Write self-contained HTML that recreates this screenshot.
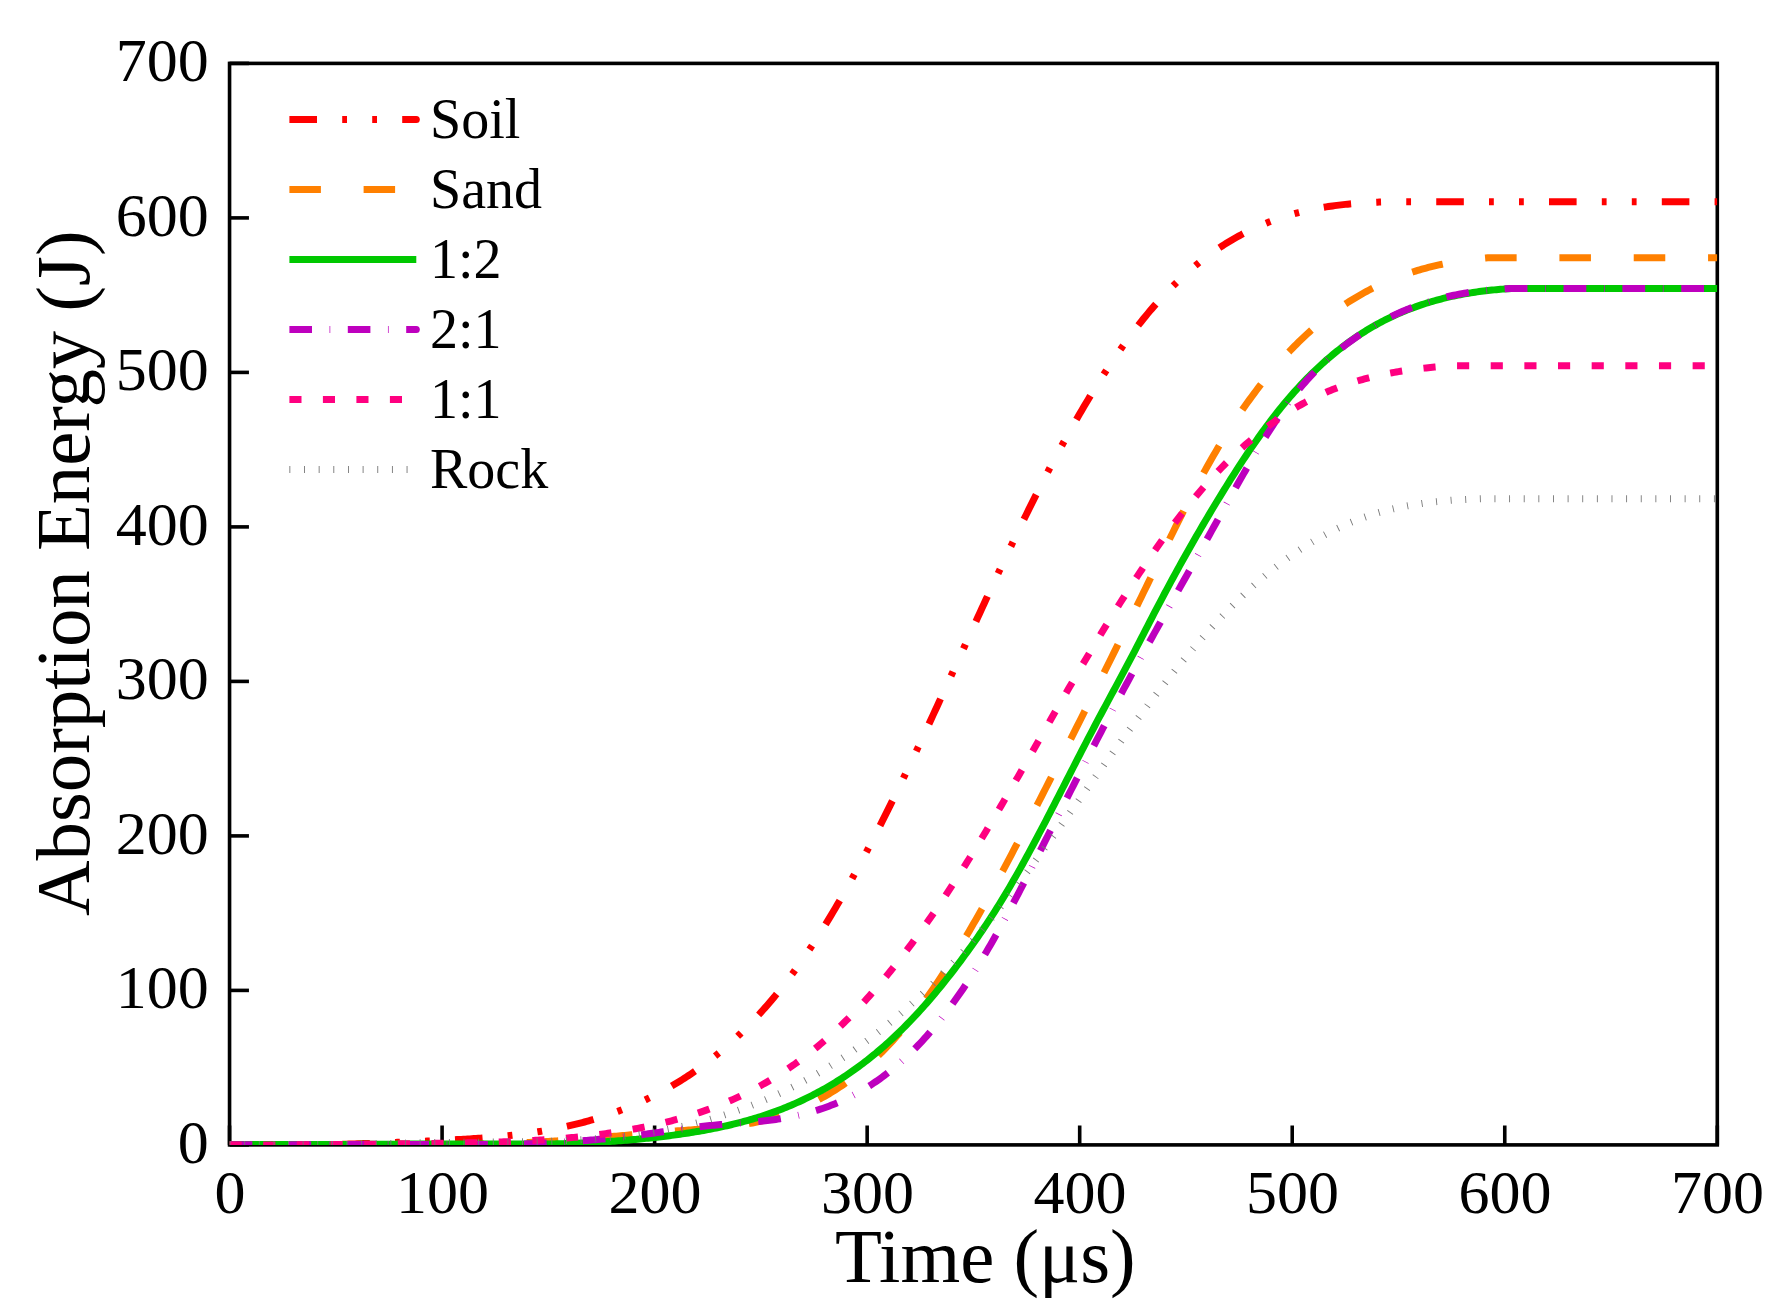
<!DOCTYPE html>
<html lang="en"><head><meta charset="utf-8"><title>Absorption Energy vs Time</title>
<style>html,body{margin:0;padding:0;background:#fff}svg{display:block}text{font-family:"Liberation Serif","Times New Roman",Times,serif;fill:#000}.tk{font-size:62px}.lg{font-size:56px}.ti{font-size:76.8px}</style></head><body>
<svg width="1782" height="1309" viewBox="0 0 1782 1309">
<rect width="1782" height="1309" fill="#fff"/>
<g stroke="#000" stroke-width="3.6" fill="none" stroke-linecap="butt">
<rect x="229.55" y="63.40" width="1487.75" height="1081.50"/>
<line x1="229.55" y1="1144.90" x2="248.95" y2="1144.90"/>
<line x1="229.55" y1="1144.90" x2="229.55" y2="1125.50"/>
<line x1="229.55" y1="990.40" x2="248.95" y2="990.40"/>
<line x1="442.09" y1="1144.90" x2="442.09" y2="1125.50"/>
<line x1="229.55" y1="835.90" x2="248.95" y2="835.90"/>
<line x1="654.62" y1="1144.90" x2="654.62" y2="1125.50"/>
<line x1="229.55" y1="681.40" x2="248.95" y2="681.40"/>
<line x1="867.16" y1="1144.90" x2="867.16" y2="1125.50"/>
<line x1="229.55" y1="526.90" x2="248.95" y2="526.90"/>
<line x1="1079.69" y1="1144.90" x2="1079.69" y2="1125.50"/>
<line x1="229.55" y1="372.40" x2="248.95" y2="372.40"/>
<line x1="1292.23" y1="1144.90" x2="1292.23" y2="1125.50"/>
<line x1="229.55" y1="217.90" x2="248.95" y2="217.90"/>
<line x1="1504.76" y1="1144.90" x2="1504.76" y2="1125.50"/>
<line x1="229.55" y1="63.40" x2="248.95" y2="63.40"/>
<line x1="1717.30" y1="1144.90" x2="1717.30" y2="1125.50"/>
</g>
<g class="tk">
<text x="208.7" y="1162.9" text-anchor="end">0</text>
<text x="229.9" y="1213.3" text-anchor="middle">0</text>
<text x="208.7" y="1008.4" text-anchor="end">100</text>
<text x="442.4" y="1213.3" text-anchor="middle">100</text>
<text x="208.7" y="853.9" text-anchor="end">200</text>
<text x="654.9" y="1213.3" text-anchor="middle">200</text>
<text x="208.7" y="699.4" text-anchor="end">300</text>
<text x="867.5" y="1213.3" text-anchor="middle">300</text>
<text x="208.7" y="544.9" text-anchor="end">400</text>
<text x="1080.0" y="1213.3" text-anchor="middle">400</text>
<text x="208.7" y="390.4" text-anchor="end">500</text>
<text x="1292.5" y="1213.3" text-anchor="middle">500</text>
<text x="208.7" y="235.9" text-anchor="end">600</text>
<text x="1505.1" y="1213.3" text-anchor="middle">600</text>
<text x="208.7" y="81.4" text-anchor="end">700</text>
<text x="1717.6" y="1213.3" text-anchor="middle">700</text>
</g>
<text class="ti" x="985.3" y="1282.2" text-anchor="middle">Time (μs)</text>
<text class="ti" transform="translate(88.9 573.2) rotate(-90)" text-anchor="middle">Absorption Energy (J)</text>
<clipPath id="fr"><rect x="229.55" y="63.40" width="1487.75" height="1081.50"/></clipPath>
<g clip-path="url(#fr)" fill="none" stroke-width="7.0" stroke-linejoin="round">
<path d="M229.55,1144.53 L231.68,1144.53 L233.80,1144.53 L235.93,1144.53 L238.05,1144.53 L240.18,1144.53 L242.30,1144.53 L244.43,1144.53 L246.55,1144.53 L248.68,1144.53 L250.80,1144.53 L252.93,1144.53 L255.05,1144.53 L257.18,1144.53 L259.31,1144.53 L261.43,1144.53 L263.56,1144.53 L265.68,1144.53 L267.81,1144.53 L269.93,1144.53 L272.06,1144.53 L274.18,1144.53 L276.31,1144.53 L278.43,1144.53 L280.56,1144.53 L282.68,1144.53 L284.81,1144.53 L286.93,1144.53 L289.06,1144.53 L291.19,1144.53 L293.31,1144.53 L295.44,1144.53 L297.56,1144.53 L299.69,1144.53 L301.81,1144.53 L303.94,1144.53 L306.06,1144.53 L308.19,1144.53 L310.31,1144.53 L312.44,1144.53 L314.56,1144.53 L316.69,1144.53 L318.81,1144.53 L320.94,1144.53 L323.07,1144.53 L325.19,1144.53 L327.32,1144.53 L329.44,1144.53 L331.57,1144.53 L333.69,1144.51 L335.82,1144.46 L337.94,1144.40 L340.07,1144.35 L342.19,1144.29 L344.32,1144.23 L346.44,1144.16 L348.57,1144.10 L350.70,1144.03 L352.82,1143.97 L354.95,1143.90 L357.07,1143.83 L359.20,1143.76 L361.32,1143.69 L363.45,1143.62 L365.57,1143.54 L367.70,1143.47 L369.82,1143.39 L371.95,1143.31 L374.07,1143.23 L376.20,1143.15 L378.32,1143.07 L380.45,1142.99 L382.58,1142.91 L384.70,1142.83 L386.83,1142.74 L388.95,1142.66 L391.08,1142.57 L393.20,1142.49 L395.33,1142.40 L397.45,1142.31 L399.58,1142.22 L401.70,1142.14 L403.83,1142.05 L405.95,1141.96 L408.08,1141.87 L410.21,1141.78 L412.33,1141.68 L414.46,1141.59 L416.58,1141.50 L418.71,1141.41 L420.83,1141.32 L422.96,1141.22 L425.08,1141.13 L427.21,1141.04 L429.33,1140.94 L431.46,1140.85 L433.58,1140.75 L435.71,1140.66 L437.84,1140.56 L439.96,1140.46 L442.09,1140.36 L444.21,1140.26 L446.34,1140.16 L448.46,1140.06 L450.59,1139.95 L452.71,1139.84 L454.84,1139.73 L456.96,1139.62 L459.09,1139.50 L461.21,1139.38 L463.34,1139.26 L465.46,1139.14 L467.59,1139.01 L469.72,1138.88 L471.84,1138.74 L473.97,1138.60 L476.09,1138.46 L478.22,1138.31 L480.34,1138.16 L482.47,1138.00 L484.59,1137.84 L486.72,1137.68 L488.84,1137.51 L490.97,1137.33 L493.09,1137.15 L495.22,1136.96 L497.34,1136.77 L499.47,1136.57 L501.60,1136.37 L503.72,1136.16 L505.85,1135.94 L507.97,1135.72 L510.10,1135.49 L512.22,1135.25 L514.35,1135.01 L516.47,1134.76 L518.60,1134.50 L520.72,1134.24 L522.85,1133.97 L524.97,1133.69 L527.10,1133.40 L529.23,1133.10 L531.35,1132.80 L533.48,1132.48 L535.60,1132.16 L537.73,1131.83 L539.85,1131.49 L541.98,1131.14 L544.10,1130.78 L546.23,1130.42 L548.35,1130.04 L550.48,1129.65 L552.60,1129.25 L554.73,1128.85 L556.86,1128.43 L558.98,1128.00 L561.11,1127.57 L563.23,1127.12 L565.36,1126.66 L567.48,1126.19 L569.61,1125.70 L571.73,1125.21 L573.86,1124.70 L575.98,1124.19 L578.11,1123.66 L580.23,1123.12 L582.36,1122.57 L584.48,1122.00 L586.61,1121.42 L588.74,1120.83 L590.86,1120.23 L592.99,1119.61 L595.11,1118.98 L597.24,1118.34 L599.36,1117.68 L601.49,1117.01 L603.61,1116.32 L605.74,1115.63 L607.86,1114.91 L609.99,1114.18 L612.11,1113.44 L614.24,1112.69 L616.37,1111.91 L618.49,1111.13 L620.62,1110.33 L622.74,1109.51 L624.87,1108.68 L626.99,1107.83 L629.12,1106.96 L631.24,1106.08 L633.37,1105.19 L635.49,1104.27 L637.62,1103.34 L639.74,1102.40 L641.87,1101.43 L643.99,1100.45 L646.12,1099.46 L648.25,1098.44 L650.37,1097.41 L652.50,1096.36 L654.62,1095.29 L656.75,1094.20 L658.87,1093.10 L661.00,1091.97 L663.12,1090.83 L665.25,1089.67 L667.37,1088.48 L669.50,1087.28 L671.62,1086.06 L673.75,1084.81 L675.88,1083.54 L678.00,1082.26 L680.13,1080.95 L682.25,1079.62 L684.38,1078.27 L686.50,1076.89 L688.63,1075.49 L690.75,1074.07 L692.88,1072.63 L695.00,1071.16 L697.13,1069.67 L699.25,1068.15 L701.38,1066.61 L703.50,1065.05 L705.63,1063.46 L707.76,1061.84 L709.88,1060.20 L712.01,1058.53 L714.13,1056.84 L716.26,1055.12 L718.38,1053.38 L720.51,1051.60 L722.63,1049.80 L724.76,1047.97 L726.88,1046.12 L729.01,1044.24 L731.13,1042.32 L733.26,1040.38 L735.38,1038.41 L737.51,1036.41 L739.64,1034.39 L741.76,1032.33 L743.89,1030.24 L746.01,1028.12 L748.14,1025.97 L750.26,1023.79 L752.39,1021.58 L754.51,1019.34 L756.64,1017.06 L758.76,1014.75 L760.89,1012.41 L763.01,1010.04 L765.14,1007.64 L767.27,1005.20 L769.39,1002.73 L771.52,1000.22 L773.64,997.68 L775.77,995.11 L777.89,992.50 L780.02,989.86 L782.14,987.18 L784.27,984.47 L786.39,981.72 L788.52,978.93 L790.64,976.11 L792.77,973.25 L794.89,970.35 L797.02,967.42 L799.15,964.45 L801.27,961.44 L803.40,958.40 L805.52,955.31 L807.65,952.19 L809.77,949.03 L811.90,945.83 L814.02,942.59 L816.15,939.31 L818.27,936.00 L820.40,932.65 L822.52,929.26 L824.65,925.84 L826.78,922.38 L828.90,918.89 L831.03,915.36 L833.15,911.80 L835.28,908.20 L837.40,904.57 L839.53,900.91 L841.65,897.22 L843.78,893.50 L845.90,889.74 L848.03,885.96 L850.15,882.14 L852.28,878.30 L854.40,874.42 L856.53,870.52 L858.66,866.59 L860.78,862.63 L862.91,858.65 L865.03,854.64 L867.16,850.60 L869.28,846.54 L871.41,842.45 L873.53,838.33 L875.66,834.20 L877.78,830.04 L879.91,825.85 L882.03,821.64 L884.16,817.42 L886.29,813.16 L888.41,808.89 L890.54,804.60 L892.66,800.29 L894.79,795.95 L896.91,791.60 L899.04,787.23 L901.16,782.84 L903.29,778.43 L905.41,774.01 L907.54,769.57 L909.66,765.11 L911.79,760.64 L913.91,756.15 L916.04,751.65 L918.17,747.13 L920.29,742.60 L922.42,738.05 L924.54,733.49 L926.67,728.92 L928.79,724.34 L930.92,719.75 L933.04,715.15 L935.17,710.54 L937.29,705.93 L939.42,701.30 L941.54,696.67 L943.67,692.03 L945.80,687.39 L947.92,682.74 L950.05,678.09 L952.17,673.44 L954.30,668.78 L956.42,664.12 L958.55,659.46 L960.67,654.80 L962.80,650.14 L964.92,645.48 L967.05,640.82 L969.17,636.17 L971.30,631.51 L973.42,626.86 L975.55,622.22 L977.68,617.58 L979.80,612.95 L981.93,608.32 L984.05,603.70 L986.18,599.09 L988.30,594.49 L990.43,589.89 L992.55,585.31 L994.68,580.74 L996.80,576.18 L998.93,571.63 L1001.05,567.09 L1003.18,562.57 L1005.31,558.06 L1007.43,553.57 L1009.56,549.09 L1011.68,544.63 L1013.81,540.19 L1015.93,535.76 L1018.06,531.35 L1020.18,526.96 L1022.31,522.60 L1024.43,518.25 L1026.56,513.92 L1028.68,509.62 L1030.81,505.33 L1032.93,501.08 L1035.06,496.84 L1037.19,492.63 L1039.31,488.44 L1041.44,484.28 L1043.56,480.14 L1045.69,476.02 L1047.81,471.94 L1049.94,467.87 L1052.06,463.83 L1054.19,459.82 L1056.31,455.84 L1058.44,451.88 L1060.56,447.95 L1062.69,444.04 L1064.82,440.17 L1066.94,436.32 L1069.07,432.50 L1071.19,428.70 L1073.32,424.94 L1075.44,421.20 L1077.57,417.50 L1079.69,413.82 L1081.82,410.18 L1083.94,406.56 L1086.07,402.98 L1088.19,399.42 L1090.32,395.90 L1092.44,392.41 L1094.57,388.95 L1096.70,385.52 L1098.82,382.12 L1100.95,378.76 L1103.07,375.43 L1105.20,372.13 L1107.32,368.87 L1109.45,365.64 L1111.57,362.44 L1113.70,359.28 L1115.82,356.16 L1117.95,353.07 L1120.07,350.01 L1122.20,346.99 L1124.33,344.00 L1126.45,341.06 L1128.58,338.14 L1130.70,335.27 L1132.83,332.43 L1134.95,329.63 L1137.08,326.87 L1139.20,324.14 L1141.33,321.46 L1143.45,318.81 L1145.58,316.20 L1147.70,313.63 L1149.83,311.10 L1151.95,308.61 L1154.08,306.15 L1156.21,303.73 L1158.33,301.35 L1160.46,299.01 L1162.58,296.71 L1164.71,294.44 L1166.83,292.21 L1168.96,290.01 L1171.08,287.85 L1173.21,285.73 L1175.33,283.64 L1177.46,281.58 L1179.58,279.57 L1181.71,277.58 L1183.84,275.63 L1185.96,273.71 L1188.09,271.83 L1190.21,269.98 L1192.34,268.16 L1194.46,266.37 L1196.59,264.62 L1198.71,262.90 L1200.84,261.21 L1202.96,259.55 L1205.09,257.92 L1207.21,256.33 L1209.34,254.76 L1211.46,253.23 L1213.59,251.72 L1215.72,250.24 L1217.84,248.80 L1219.97,247.38 L1222.09,245.99 L1224.22,244.63 L1226.34,243.30 L1228.47,241.99 L1230.59,240.71 L1232.72,239.46 L1234.84,238.24 L1236.97,237.04 L1239.09,235.87 L1241.22,234.73 L1243.35,233.61 L1245.47,232.52 L1247.60,231.45 L1249.72,230.41 L1251.85,229.39 L1253.97,228.39 L1256.10,227.42 L1258.22,226.48 L1260.35,225.55 L1262.47,224.65 L1264.60,223.77 L1266.72,222.92 L1268.85,222.09 L1270.97,221.28 L1273.10,220.49 L1275.23,219.72 L1277.35,218.97 L1279.48,218.24 L1281.60,217.54 L1283.73,216.85 L1285.85,216.19 L1287.98,215.54 L1290.10,214.91 L1292.23,214.30 L1294.35,213.71 L1296.48,213.14 L1298.60,212.59 L1300.73,212.05 L1302.86,211.54 L1304.98,211.03 L1307.11,210.55 L1309.23,210.08 L1311.36,209.63 L1313.48,209.20 L1315.61,208.78 L1317.73,208.37 L1319.86,207.98 L1321.98,207.61 L1324.11,207.25 L1326.23,206.90 L1328.36,206.57 L1330.48,206.25 L1332.61,205.95 L1334.74,205.65 L1336.86,205.37 L1338.99,205.11 L1341.11,204.85 L1343.24,204.61 L1345.36,204.38 L1347.49,204.16 L1349.61,203.95 L1351.74,203.75 L1353.86,203.56 L1355.99,203.39 L1358.11,203.22 L1360.24,203.06 L1362.37,202.91 L1364.49,202.78 L1366.62,202.65 L1368.74,202.53 L1370.87,202.42 L1372.99,202.31 L1375.12,202.22 L1377.24,202.13 L1379.37,202.05 L1381.49,201.98 L1383.62,201.91 L1385.74,201.85 L1387.87,201.83 L1389.99,201.83 L1392.12,201.83 L1394.25,201.83 L1396.37,201.83 L1398.50,201.83 L1400.62,201.83 L1402.75,201.83 L1404.87,201.83 L1407.00,201.83 L1409.12,201.83 L1411.25,201.83 L1413.37,201.83 L1415.50,201.83 L1417.62,201.83 L1419.75,201.83 L1421.88,201.83 L1424.00,201.83 L1426.13,201.83 L1428.25,201.83 L1430.38,201.83 L1432.50,201.83 L1434.63,201.83 L1436.75,201.83 L1438.88,201.83 L1441.00,201.83 L1443.13,201.83 L1445.25,201.83 L1447.38,201.83 L1449.50,201.83 L1451.63,201.83 L1453.76,201.83 L1455.88,201.83 L1458.01,201.83 L1460.13,201.83 L1462.26,201.83 L1464.38,201.83 L1466.51,201.83 L1468.63,201.83 L1470.76,201.83 L1472.88,201.83 L1475.01,201.83 L1477.13,201.83 L1479.26,201.83 L1481.39,201.83 L1483.51,201.83 L1485.64,201.83 L1487.76,201.83 L1489.89,201.83 L1492.01,201.83 L1494.14,201.83 L1496.26,201.83 L1498.39,201.83 L1500.51,201.83 L1502.64,201.83 L1504.76,201.83 L1506.89,201.83 L1509.01,201.83 L1511.14,201.83 L1513.27,201.83 L1515.39,201.83 L1517.52,201.83 L1519.64,201.83 L1521.77,201.83 L1523.89,201.83 L1526.02,201.83 L1528.14,201.83 L1530.27,201.83 L1532.39,201.83 L1534.52,201.83 L1536.64,201.83 L1538.77,201.83 L1540.90,201.83 L1543.02,201.83 L1545.15,201.83 L1547.27,201.83 L1549.40,201.83 L1551.52,201.83 L1553.65,201.83 L1555.77,201.83 L1557.90,201.83 L1560.02,201.83 L1562.15,201.83 L1564.27,201.83 L1566.40,201.83 L1568.52,201.83 L1570.65,201.83 L1572.78,201.83 L1574.90,201.83 L1577.03,201.83 L1579.15,201.83 L1581.28,201.83 L1583.40,201.83 L1585.53,201.83 L1587.65,201.83 L1589.78,201.83 L1591.90,201.83 L1594.03,201.83 L1596.15,201.83 L1598.28,201.83 L1600.41,201.83 L1602.53,201.83 L1604.66,201.83 L1606.78,201.83 L1608.91,201.83 L1611.03,201.83 L1613.16,201.83 L1615.28,201.83 L1617.41,201.83 L1619.53,201.83 L1621.66,201.83 L1623.78,201.83 L1625.91,201.83 L1628.03,201.83 L1630.16,201.83 L1632.29,201.83 L1634.41,201.83 L1636.54,201.83 L1638.66,201.83 L1640.79,201.83 L1642.91,201.83 L1645.04,201.83 L1647.16,201.83 L1649.29,201.83 L1651.41,201.83 L1653.54,201.83 L1655.66,201.83 L1657.79,201.83 L1659.92,201.83 L1662.04,201.83 L1664.17,201.83 L1666.29,201.83 L1668.42,201.83 L1670.54,201.83 L1672.67,201.83 L1674.79,201.83 L1676.92,201.83 L1679.04,201.83 L1681.17,201.83 L1683.29,201.83 L1685.42,201.83 L1687.54,201.83 L1689.67,201.83 L1691.80,201.83 L1693.92,201.83 L1696.05,201.83 L1698.17,201.83 L1700.30,201.83 L1702.42,201.83 L1704.55,201.83 L1706.67,201.83 L1708.80,201.83 L1710.92,201.83 L1713.05,201.83 L1715.17,201.83 L1717.30,201.83" stroke="#ff0000" stroke-dasharray="27.595 25.196 4.799 25.196 4.799 25.196"/>
<path d="M229.55,1144.90 L231.68,1144.90 L233.80,1144.90 L235.93,1144.90 L238.05,1144.90 L240.18,1144.90 L242.30,1144.90 L244.43,1144.90 L246.55,1144.90 L248.68,1144.88 L250.80,1144.85 L252.93,1144.83 L255.05,1144.81 L257.18,1144.78 L259.31,1144.76 L261.43,1144.75 L263.56,1144.73 L265.68,1144.71 L267.81,1144.70 L269.93,1144.68 L272.06,1144.67 L274.18,1144.66 L276.31,1144.65 L278.43,1144.64 L280.56,1144.63 L282.68,1144.63 L284.81,1144.62 L286.93,1144.62 L289.06,1144.61 L291.19,1144.61 L293.31,1144.61 L295.44,1144.61 L297.56,1144.61 L299.69,1144.61 L301.81,1144.61 L303.94,1144.61 L306.06,1144.61 L308.19,1144.61 L310.31,1144.61 L312.44,1144.61 L314.56,1144.61 L316.69,1144.61 L318.81,1144.61 L320.94,1144.61 L323.07,1144.61 L325.19,1144.61 L327.32,1144.61 L329.44,1144.61 L331.57,1144.61 L333.69,1144.61 L335.82,1144.61 L337.94,1144.61 L340.07,1144.61 L342.19,1144.61 L344.32,1144.61 L346.44,1144.61 L348.57,1144.61 L350.70,1144.61 L352.82,1144.61 L354.95,1144.61 L357.07,1144.61 L359.20,1144.61 L361.32,1144.61 L363.45,1144.61 L365.57,1144.61 L367.70,1144.61 L369.82,1144.61 L371.95,1144.61 L374.07,1144.61 L376.20,1144.61 L378.32,1144.61 L380.45,1144.61 L382.58,1144.61 L384.70,1144.61 L386.83,1144.61 L388.95,1144.61 L391.08,1144.61 L393.20,1144.61 L395.33,1144.61 L397.45,1144.61 L399.58,1144.61 L401.70,1144.61 L403.83,1144.61 L405.95,1144.61 L408.08,1144.61 L410.21,1144.61 L412.33,1144.61 L414.46,1144.61 L416.58,1144.61 L418.71,1144.61 L420.83,1144.61 L422.96,1144.61 L425.08,1144.61 L427.21,1144.61 L429.33,1144.61 L431.46,1144.61 L433.58,1144.61 L435.71,1144.61 L437.84,1144.61 L439.96,1144.61 L442.09,1144.61 L444.21,1144.61 L446.34,1144.61 L448.46,1144.61 L450.59,1144.61 L452.71,1144.61 L454.84,1144.61 L456.96,1144.61 L459.09,1144.61 L461.21,1144.58 L463.34,1144.55 L465.46,1144.51 L467.59,1144.48 L469.72,1144.44 L471.84,1144.40 L473.97,1144.35 L476.09,1144.31 L478.22,1144.26 L480.34,1144.21 L482.47,1144.16 L484.59,1144.11 L486.72,1144.05 L488.84,1144.00 L490.97,1143.94 L493.09,1143.87 L495.22,1143.81 L497.34,1143.75 L499.47,1143.68 L501.60,1143.61 L503.72,1143.53 L505.85,1143.46 L507.97,1143.38 L510.10,1143.30 L512.22,1143.22 L514.35,1143.13 L516.47,1143.05 L518.60,1142.96 L520.72,1142.86 L522.85,1142.77 L524.97,1142.67 L527.10,1142.57 L529.23,1142.47 L531.35,1142.36 L533.48,1142.25 L535.60,1142.14 L537.73,1142.03 L539.85,1141.91 L541.98,1141.79 L544.10,1141.67 L546.23,1141.54 L548.35,1141.41 L550.48,1141.28 L552.60,1141.15 L554.73,1141.01 L556.86,1140.87 L558.98,1140.72 L561.11,1140.58 L563.23,1140.43 L565.36,1140.28 L567.48,1140.12 L569.61,1139.97 L571.73,1139.81 L573.86,1139.65 L575.98,1139.49 L578.11,1139.32 L580.23,1139.16 L582.36,1138.99 L584.48,1138.82 L586.61,1138.65 L588.74,1138.48 L590.86,1138.30 L592.99,1138.12 L595.11,1137.95 L597.24,1137.77 L599.36,1137.59 L601.49,1137.41 L603.61,1137.23 L605.74,1137.04 L607.86,1136.86 L609.99,1136.68 L612.11,1136.49 L614.24,1136.31 L616.37,1136.12 L618.49,1135.93 L620.62,1135.75 L622.74,1135.56 L624.87,1135.37 L626.99,1135.19 L629.12,1135.00 L631.24,1134.81 L633.37,1134.62 L635.49,1134.44 L637.62,1134.25 L639.74,1134.06 L641.87,1133.88 L643.99,1133.69 L646.12,1133.51 L648.25,1133.32 L650.37,1133.14 L652.50,1132.96 L654.62,1132.78 L656.75,1132.59 L658.87,1132.42 L661.00,1132.24 L663.12,1132.06 L665.25,1131.88 L667.37,1131.71 L669.50,1131.54 L671.62,1131.37 L673.75,1131.20 L675.88,1131.03 L678.00,1130.86 L680.13,1130.70 L682.25,1130.54 L684.38,1130.38 L686.50,1130.22 L688.63,1130.07 L690.75,1129.91 L692.88,1129.76 L695.00,1129.60 L697.13,1129.45 L699.25,1129.29 L701.38,1129.13 L703.50,1128.97 L705.63,1128.81 L707.76,1128.64 L709.88,1128.47 L712.01,1128.29 L714.13,1128.10 L716.26,1127.91 L718.38,1127.71 L720.51,1127.51 L722.63,1127.29 L724.76,1127.06 L726.88,1126.83 L729.01,1126.58 L731.13,1126.32 L733.26,1126.05 L735.38,1125.77 L737.51,1125.47 L739.64,1125.16 L741.76,1124.83 L743.89,1124.49 L746.01,1124.14 L748.14,1123.76 L750.26,1123.37 L752.39,1122.96 L754.51,1122.53 L756.64,1122.08 L758.76,1121.62 L760.89,1121.13 L763.01,1120.63 L765.14,1120.10 L767.27,1119.56 L769.39,1119.00 L771.52,1118.41 L773.64,1117.81 L775.77,1117.18 L777.89,1116.54 L780.02,1115.87 L782.14,1115.18 L784.27,1114.47 L786.39,1113.73 L788.52,1112.97 L790.64,1112.19 L792.77,1111.39 L794.89,1110.56 L797.02,1109.71 L799.15,1108.84 L801.27,1107.94 L803.40,1107.02 L805.52,1106.07 L807.65,1105.10 L809.77,1104.10 L811.90,1103.07 L814.02,1102.02 L816.15,1100.94 L818.27,1099.84 L820.40,1098.70 L822.52,1097.54 L824.65,1096.35 L826.78,1095.13 L828.90,1093.88 L831.03,1092.60 L833.15,1091.29 L835.28,1089.95 L837.40,1088.58 L839.53,1087.18 L841.65,1085.74 L843.78,1084.27 L845.90,1082.78 L848.03,1081.24 L850.15,1079.68 L852.28,1078.08 L854.40,1076.44 L856.53,1074.78 L858.66,1073.07 L860.78,1071.33 L862.91,1069.56 L865.03,1067.75 L867.16,1065.90 L869.28,1064.02 L871.41,1062.10 L873.53,1060.14 L875.66,1058.14 L877.78,1056.11 L879.91,1054.04 L882.03,1051.93 L884.16,1049.78 L886.29,1047.58 L888.41,1045.35 L890.54,1043.08 L892.66,1040.77 L894.79,1038.42 L896.91,1036.03 L899.04,1033.59 L901.16,1031.12 L903.29,1028.60 L905.41,1026.04 L907.54,1023.43 L909.66,1020.78 L911.79,1018.09 L913.91,1015.35 L916.04,1012.58 L918.17,1009.76 L920.29,1006.90 L922.42,1004.00 L924.54,1001.06 L926.67,998.08 L928.79,995.06 L930.92,992.00 L933.04,988.91 L935.17,985.77 L937.29,982.61 L939.42,979.41 L941.54,976.17 L943.67,972.90 L945.80,969.59 L947.92,966.25 L950.05,962.88 L952.17,959.48 L954.30,956.05 L956.42,952.59 L958.55,949.10 L960.67,945.57 L962.80,942.02 L964.92,938.45 L967.05,934.84 L969.17,931.21 L971.30,927.55 L973.42,923.87 L975.55,920.16 L977.68,916.43 L979.80,912.68 L981.93,908.90 L984.05,905.11 L986.18,901.29 L988.30,897.44 L990.43,893.58 L992.55,889.70 L994.68,885.81 L996.80,881.89 L998.93,877.95 L1001.05,874.00 L1003.18,870.03 L1005.31,866.05 L1007.43,862.05 L1009.56,858.04 L1011.68,854.01 L1013.81,849.98 L1015.93,845.92 L1018.06,841.86 L1020.18,837.79 L1022.31,833.70 L1024.43,829.61 L1026.56,825.50 L1028.68,821.39 L1030.81,817.27 L1032.93,813.14 L1035.06,809.01 L1037.19,804.87 L1039.31,800.72 L1041.44,796.57 L1043.56,792.42 L1045.69,788.26 L1047.81,784.10 L1049.94,779.93 L1052.06,775.76 L1054.19,771.59 L1056.31,767.42 L1058.44,763.24 L1060.56,759.05 L1062.69,754.87 L1064.82,750.68 L1066.94,746.48 L1069.07,742.28 L1071.19,738.08 L1073.32,733.88 L1075.44,729.67 L1077.57,725.45 L1079.69,721.23 L1081.82,717.01 L1083.94,712.79 L1086.07,708.56 L1088.19,704.32 L1090.32,700.08 L1092.44,695.84 L1094.57,691.59 L1096.70,687.34 L1098.82,683.08 L1100.95,678.82 L1103.07,674.56 L1105.20,670.29 L1107.32,666.01 L1109.45,661.73 L1111.57,657.45 L1113.70,653.16 L1115.82,648.86 L1117.95,644.56 L1120.07,640.26 L1122.20,635.95 L1124.33,631.64 L1126.45,627.32 L1128.58,623.00 L1130.70,618.67 L1132.83,614.33 L1134.95,609.99 L1137.08,605.65 L1139.20,601.30 L1141.33,596.94 L1143.45,592.58 L1145.58,588.22 L1147.70,583.85 L1149.83,579.48 L1151.95,575.10 L1154.08,570.73 L1156.21,566.36 L1158.33,562.00 L1160.46,557.64 L1162.58,553.28 L1164.71,548.94 L1166.83,544.61 L1168.96,540.29 L1171.08,535.98 L1173.21,531.69 L1175.33,527.42 L1177.46,523.17 L1179.58,518.93 L1181.71,514.72 L1183.84,510.53 L1185.96,506.37 L1188.09,502.24 L1190.21,498.13 L1192.34,494.05 L1194.46,490.01 L1196.59,486.00 L1198.71,482.02 L1200.84,478.08 L1202.96,474.18 L1205.09,470.32 L1207.21,466.50 L1209.34,462.73 L1211.46,459.00 L1213.59,455.32 L1215.72,451.68 L1217.84,448.08 L1219.97,444.53 L1222.09,441.03 L1224.22,437.57 L1226.34,434.15 L1228.47,430.78 L1230.59,427.45 L1232.72,424.16 L1234.84,420.92 L1236.97,417.72 L1239.09,414.56 L1241.22,411.44 L1243.35,408.36 L1245.47,405.33 L1247.60,402.34 L1249.72,399.39 L1251.85,396.47 L1253.97,393.60 L1256.10,390.77 L1258.22,387.98 L1260.35,385.23 L1262.47,382.51 L1264.60,379.84 L1266.72,377.20 L1268.85,374.60 L1270.97,372.04 L1273.10,369.52 L1275.23,367.03 L1277.35,364.58 L1279.48,362.17 L1281.60,359.80 L1283.73,357.46 L1285.85,355.16 L1287.98,352.89 L1290.10,350.66 L1292.23,348.46 L1294.35,346.30 L1296.48,344.17 L1298.60,342.07 L1300.73,340.01 L1302.86,337.99 L1304.98,335.99 L1307.11,334.03 L1309.23,332.10 L1311.36,330.21 L1313.48,328.35 L1315.61,326.52 L1317.73,324.72 L1319.86,322.95 L1321.98,321.21 L1324.11,319.50 L1326.23,317.83 L1328.36,316.18 L1330.48,314.56 L1332.61,312.98 L1334.74,311.42 L1336.86,309.89 L1338.99,308.39 L1341.11,306.92 L1343.24,305.48 L1345.36,304.06 L1347.49,302.67 L1349.61,301.31 L1351.74,299.98 L1353.86,298.67 L1355.99,297.39 L1358.11,296.14 L1360.24,294.91 L1362.37,293.70 L1364.49,292.53 L1366.62,291.37 L1368.74,290.24 L1370.87,289.14 L1372.99,288.06 L1375.12,287.00 L1377.24,285.97 L1379.37,284.96 L1381.49,283.97 L1383.62,283.01 L1385.74,282.07 L1387.87,281.15 L1389.99,280.25 L1392.12,279.37 L1394.25,278.52 L1396.37,277.68 L1398.50,276.87 L1400.62,276.08 L1402.75,275.30 L1404.87,274.55 L1407.00,273.82 L1409.12,273.10 L1411.25,272.41 L1413.37,271.73 L1415.50,271.07 L1417.62,270.43 L1419.75,269.81 L1421.88,269.20 L1424.00,268.61 L1426.13,268.04 L1428.25,267.48 L1430.38,266.94 L1432.50,266.42 L1434.63,265.92 L1436.75,265.42 L1438.88,264.95 L1441.00,264.49 L1443.13,264.04 L1445.25,263.61 L1447.38,263.20 L1449.50,262.80 L1451.63,262.41 L1453.76,262.04 L1455.88,261.68 L1458.01,261.33 L1460.13,261.00 L1462.26,260.68 L1464.38,260.38 L1466.51,260.09 L1468.63,259.81 L1470.76,259.54 L1472.88,259.28 L1475.01,259.04 L1477.13,258.81 L1479.26,258.59 L1481.39,258.38 L1483.51,258.18 L1485.64,257.99 L1487.76,257.82 L1489.89,257.76 L1492.01,257.76 L1494.14,257.76 L1496.26,257.76 L1498.39,257.76 L1500.51,257.76 L1502.64,257.76 L1504.76,257.76 L1506.89,257.76 L1509.01,257.76 L1511.14,257.76 L1513.27,257.76 L1515.39,257.76 L1517.52,257.76 L1519.64,257.76 L1521.77,257.76 L1523.89,257.76 L1526.02,257.76 L1528.14,257.76 L1530.27,257.76 L1532.39,257.76 L1534.52,257.76 L1536.64,257.76 L1538.77,257.76 L1540.90,257.76 L1543.02,257.76 L1545.15,257.76 L1547.27,257.76 L1549.40,257.76 L1551.52,257.76 L1553.65,257.76 L1555.77,257.76 L1557.90,257.76 L1560.02,257.76 L1562.15,257.76 L1564.27,257.76 L1566.40,257.76 L1568.52,257.76 L1570.65,257.76 L1572.78,257.76 L1574.90,257.76 L1577.03,257.76 L1579.15,257.76 L1581.28,257.76 L1583.40,257.76 L1585.53,257.76 L1587.65,257.76 L1589.78,257.76 L1591.90,257.76 L1594.03,257.76 L1596.15,257.76 L1598.28,257.76 L1600.41,257.76 L1602.53,257.76 L1604.66,257.76 L1606.78,257.76 L1608.91,257.76 L1611.03,257.76 L1613.16,257.76 L1615.28,257.76 L1617.41,257.76 L1619.53,257.76 L1621.66,257.76 L1623.78,257.76 L1625.91,257.76 L1628.03,257.76 L1630.16,257.76 L1632.29,257.76 L1634.41,257.76 L1636.54,257.76 L1638.66,257.76 L1640.79,257.76 L1642.91,257.76 L1645.04,257.76 L1647.16,257.76 L1649.29,257.76 L1651.41,257.76 L1653.54,257.76 L1655.66,257.76 L1657.79,257.76 L1659.92,257.76 L1662.04,257.76 L1664.17,257.76 L1666.29,257.76 L1668.42,257.76 L1670.54,257.76 L1672.67,257.76 L1674.79,257.76 L1676.92,257.76 L1679.04,257.76 L1681.17,257.76 L1683.29,257.76 L1685.42,257.76 L1687.54,257.76 L1689.67,257.76 L1691.80,257.76 L1693.92,257.76 L1696.05,257.76 L1698.17,257.76 L1700.30,257.76 L1702.42,257.76 L1704.55,257.76 L1706.67,257.76 L1708.80,257.76 L1710.92,257.76 L1713.05,257.76 L1715.17,257.76 L1717.30,257.76" stroke="#ff8000" stroke-dasharray="31.552 42.770"/>
<path d="M229.55,1144.59 L231.68,1144.59 L233.80,1144.59 L235.93,1144.59 L238.05,1144.59 L240.18,1144.59 L242.30,1144.59 L244.43,1144.59 L246.55,1144.59 L248.68,1144.59 L250.80,1144.59 L252.93,1144.59 L255.05,1144.59 L257.18,1144.59 L259.31,1144.59 L261.43,1144.59 L263.56,1144.59 L265.68,1144.59 L267.81,1144.59 L269.93,1144.59 L272.06,1144.59 L274.18,1144.59 L276.31,1144.59 L278.43,1144.59 L280.56,1144.59 L282.68,1144.59 L284.81,1144.59 L286.93,1144.59 L289.06,1144.59 L291.19,1144.59 L293.31,1144.59 L295.44,1144.59 L297.56,1144.59 L299.69,1144.59 L301.81,1144.59 L303.94,1144.59 L306.06,1144.59 L308.19,1144.59 L310.31,1144.59 L312.44,1144.59 L314.56,1144.59 L316.69,1144.59 L318.81,1144.59 L320.94,1144.59 L323.07,1144.59 L325.19,1144.59 L327.32,1144.59 L329.44,1144.59 L331.57,1144.59 L333.69,1144.59 L335.82,1144.59 L337.94,1144.59 L340.07,1144.59 L342.19,1144.57 L344.32,1144.54 L346.44,1144.51 L348.57,1144.48 L350.70,1144.46 L352.82,1144.43 L354.95,1144.40 L357.07,1144.38 L359.20,1144.35 L361.32,1144.33 L363.45,1144.30 L365.57,1144.28 L367.70,1144.26 L369.82,1144.24 L371.95,1144.22 L374.07,1144.21 L376.20,1144.19 L378.32,1144.18 L380.45,1144.17 L382.58,1144.16 L384.70,1144.15 L386.83,1144.14 L388.95,1144.13 L391.08,1144.13 L393.20,1144.13 L395.33,1144.13 L397.45,1144.12 L399.58,1144.12 L401.70,1144.12 L403.83,1144.12 L405.95,1144.12 L408.08,1144.12 L410.21,1144.12 L412.33,1144.12 L414.46,1144.12 L416.58,1144.12 L418.71,1144.12 L420.83,1144.12 L422.96,1144.12 L425.08,1144.12 L427.21,1144.12 L429.33,1144.12 L431.46,1144.12 L433.58,1144.12 L435.71,1144.12 L437.84,1144.12 L439.96,1144.12 L442.09,1144.12 L444.21,1144.12 L446.34,1144.12 L448.46,1144.12 L450.59,1144.12 L452.71,1144.12 L454.84,1144.12 L456.96,1144.12 L459.09,1144.12 L461.21,1144.12 L463.34,1144.12 L465.46,1144.12 L467.59,1144.12 L469.72,1144.12 L471.84,1144.12 L473.97,1144.12 L476.09,1144.12 L478.22,1144.12 L480.34,1144.12 L482.47,1144.12 L484.59,1144.12 L486.72,1144.12 L488.84,1144.12 L490.97,1144.12 L493.09,1144.12 L495.22,1144.12 L497.34,1144.12 L499.47,1144.12 L501.60,1144.12 L503.72,1144.12 L505.85,1144.12 L507.97,1144.12 L510.10,1144.12 L512.22,1144.12 L514.35,1144.12 L516.47,1144.12 L518.60,1144.12 L520.72,1144.12 L522.85,1144.12 L524.97,1144.12 L527.10,1144.12 L529.23,1144.12 L531.35,1144.12 L533.48,1144.12 L535.60,1144.12 L537.73,1144.12 L539.85,1144.12 L541.98,1144.12 L544.10,1144.12 L546.23,1144.11 L548.35,1144.06 L550.48,1144.01 L552.60,1143.96 L554.73,1143.91 L556.86,1143.85 L558.98,1143.80 L561.11,1143.73 L563.23,1143.67 L565.36,1143.60 L567.48,1143.53 L569.61,1143.46 L571.73,1143.38 L573.86,1143.31 L575.98,1143.22 L578.11,1143.14 L580.23,1143.05 L582.36,1142.96 L584.48,1142.86 L586.61,1142.76 L588.74,1142.66 L590.86,1142.55 L592.99,1142.44 L595.11,1142.33 L597.24,1142.21 L599.36,1142.09 L601.49,1141.97 L603.61,1141.84 L605.74,1141.71 L607.86,1141.57 L609.99,1141.43 L612.11,1141.29 L614.24,1141.14 L616.37,1140.99 L618.49,1140.83 L620.62,1140.67 L622.74,1140.50 L624.87,1140.33 L626.99,1140.16 L629.12,1139.98 L631.24,1139.80 L633.37,1139.61 L635.49,1139.42 L637.62,1139.22 L639.74,1139.02 L641.87,1138.81 L643.99,1138.60 L646.12,1138.38 L648.25,1138.16 L650.37,1137.94 L652.50,1137.70 L654.62,1137.47 L656.75,1137.23 L658.87,1136.98 L661.00,1136.73 L663.12,1136.47 L665.25,1136.21 L667.37,1135.94 L669.50,1135.66 L671.62,1135.38 L673.75,1135.10 L675.88,1134.81 L678.00,1134.51 L680.13,1134.21 L682.25,1133.90 L684.38,1133.59 L686.50,1133.27 L688.63,1132.94 L690.75,1132.61 L692.88,1132.27 L695.00,1131.92 L697.13,1131.57 L699.25,1131.20 L701.38,1130.83 L703.50,1130.46 L705.63,1130.07 L707.76,1129.68 L709.88,1129.27 L712.01,1128.86 L714.13,1128.44 L716.26,1128.01 L718.38,1127.57 L720.51,1127.13 L722.63,1126.67 L724.76,1126.20 L726.88,1125.72 L729.01,1125.23 L731.13,1124.73 L733.26,1124.22 L735.38,1123.69 L737.51,1123.16 L739.64,1122.61 L741.76,1122.06 L743.89,1121.49 L746.01,1120.91 L748.14,1120.31 L750.26,1119.70 L752.39,1119.08 L754.51,1118.45 L756.64,1117.80 L758.76,1117.14 L760.89,1116.47 L763.01,1115.78 L765.14,1115.07 L767.27,1114.36 L769.39,1113.62 L771.52,1112.88 L773.64,1112.11 L775.77,1111.34 L777.89,1110.54 L780.02,1109.73 L782.14,1108.91 L784.27,1108.07 L786.39,1107.21 L788.52,1106.33 L790.64,1105.44 L792.77,1104.53 L794.89,1103.61 L797.02,1102.66 L799.15,1101.70 L801.27,1100.72 L803.40,1099.72 L805.52,1098.70 L807.65,1097.67 L809.77,1096.61 L811.90,1095.54 L814.02,1094.45 L816.15,1093.33 L818.27,1092.20 L820.40,1091.05 L822.52,1089.88 L824.65,1088.68 L826.78,1087.47 L828.90,1086.23 L831.03,1084.98 L833.15,1083.70 L835.28,1082.40 L837.40,1081.08 L839.53,1079.74 L841.65,1078.37 L843.78,1076.99 L845.90,1075.58 L848.03,1074.14 L850.15,1072.69 L852.28,1071.21 L854.40,1069.70 L856.53,1068.18 L858.66,1066.63 L860.78,1065.05 L862.91,1063.45 L865.03,1061.83 L867.16,1060.18 L869.28,1058.50 L871.41,1056.80 L873.53,1055.08 L875.66,1053.33 L877.78,1051.55 L879.91,1049.75 L882.03,1047.92 L884.16,1046.06 L886.29,1044.18 L888.41,1042.27 L890.54,1040.33 L892.66,1038.37 L894.79,1036.38 L896.91,1034.35 L899.04,1032.31 L901.16,1030.23 L903.29,1028.12 L905.41,1025.99 L907.54,1023.83 L909.66,1021.63 L911.79,1019.41 L913.91,1017.17 L916.04,1014.89 L918.17,1012.59 L920.29,1010.25 L922.42,1007.89 L924.54,1005.51 L926.67,1003.09 L928.79,1000.65 L930.92,998.18 L933.04,995.68 L935.17,993.16 L937.29,990.61 L939.42,988.03 L941.54,985.43 L943.67,982.79 L945.80,980.14 L947.92,977.45 L950.05,974.74 L952.17,972.00 L954.30,969.24 L956.42,966.45 L958.55,963.63 L960.67,960.79 L962.80,957.92 L964.92,955.03 L967.05,952.11 L969.17,949.17 L971.30,946.20 L973.42,943.20 L975.55,940.18 L977.68,937.13 L979.80,934.04 L981.93,930.93 L984.05,927.79 L986.18,924.61 L988.30,921.40 L990.43,918.15 L992.55,914.87 L994.68,911.55 L996.80,908.19 L998.93,904.79 L1001.05,901.36 L1003.18,897.88 L1005.31,894.36 L1007.43,890.79 L1009.56,887.19 L1011.68,883.54 L1013.81,879.86 L1015.93,876.14 L1018.06,872.38 L1020.18,868.60 L1022.31,864.77 L1024.43,860.92 L1026.56,857.04 L1028.68,853.13 L1030.81,849.20 L1032.93,845.24 L1035.06,841.25 L1037.19,837.25 L1039.31,833.22 L1041.44,829.18 L1043.56,825.12 L1045.69,821.04 L1047.81,816.95 L1049.94,812.84 L1052.06,808.72 L1054.19,804.60 L1056.31,800.46 L1058.44,796.32 L1060.56,792.17 L1062.69,788.02 L1064.82,783.86 L1066.94,779.71 L1069.07,775.55 L1071.19,771.40 L1073.32,767.25 L1075.44,763.10 L1077.57,758.96 L1079.69,754.83 L1081.82,750.71 L1083.94,746.60 L1086.07,742.50 L1088.19,738.41 L1090.32,734.34 L1092.44,730.29 L1094.57,726.25 L1096.70,722.23 L1098.82,718.23 L1100.95,714.24 L1103.07,710.27 L1105.20,706.30 L1107.32,702.35 L1109.45,698.39 L1111.57,694.44 L1113.70,690.49 L1115.82,686.54 L1117.95,682.58 L1120.07,678.62 L1122.20,674.65 L1124.33,670.67 L1126.45,666.67 L1128.58,662.66 L1130.70,658.63 L1132.83,654.58 L1134.95,650.51 L1137.08,646.42 L1139.20,642.31 L1141.33,638.19 L1143.45,634.06 L1145.58,629.93 L1147.70,625.80 L1149.83,621.68 L1151.95,617.56 L1154.08,613.46 L1156.21,609.38 L1158.33,605.32 L1160.46,601.28 L1162.58,597.26 L1164.71,593.26 L1166.83,589.29 L1168.96,585.33 L1171.08,581.40 L1173.21,577.49 L1175.33,573.60 L1177.46,569.73 L1179.58,565.88 L1181.71,562.05 L1183.84,558.24 L1185.96,554.45 L1188.09,550.69 L1190.21,546.94 L1192.34,543.21 L1194.46,539.50 L1196.59,535.82 L1198.71,532.15 L1200.84,528.50 L1202.96,524.88 L1205.09,521.27 L1207.21,517.68 L1209.34,514.11 L1211.46,510.56 L1213.59,507.03 L1215.72,503.52 L1217.84,500.03 L1219.97,496.55 L1222.09,493.10 L1224.22,489.66 L1226.34,486.25 L1228.47,482.85 L1230.59,479.47 L1232.72,476.12 L1234.84,472.79 L1236.97,469.48 L1239.09,466.19 L1241.22,462.94 L1243.35,459.70 L1245.47,456.50 L1247.60,453.32 L1249.72,450.17 L1251.85,447.05 L1253.97,443.95 L1256.10,440.89 L1258.22,437.87 L1260.35,434.87 L1262.47,431.91 L1264.60,428.98 L1266.72,426.09 L1268.85,423.23 L1270.97,420.41 L1273.10,417.63 L1275.23,414.89 L1277.35,412.18 L1279.48,409.52 L1281.60,406.89 L1283.73,404.30 L1285.85,401.76 L1287.98,399.24 L1290.10,396.77 L1292.23,394.34 L1294.35,391.94 L1296.48,389.58 L1298.60,387.25 L1300.73,384.96 L1302.86,382.71 L1304.98,380.49 L1307.11,378.31 L1309.23,376.16 L1311.36,374.05 L1313.48,371.97 L1315.61,369.93 L1317.73,367.92 L1319.86,365.94 L1321.98,364.00 L1324.11,362.09 L1326.23,360.21 L1328.36,358.37 L1330.48,356.56 L1332.61,354.78 L1334.74,353.03 L1336.86,351.31 L1338.99,349.62 L1341.11,347.96 L1343.24,346.34 L1345.36,344.74 L1347.49,343.17 L1349.61,341.63 L1351.74,340.13 L1353.86,338.65 L1355.99,337.19 L1358.11,335.77 L1360.24,334.37 L1362.37,333.01 L1364.49,331.67 L1366.62,330.35 L1368.74,329.06 L1370.87,327.80 L1372.99,326.57 L1375.12,325.36 L1377.24,324.18 L1379.37,323.02 L1381.49,321.88 L1383.62,320.77 L1385.74,319.69 L1387.87,318.63 L1389.99,317.59 L1392.12,316.58 L1394.25,315.59 L1396.37,314.62 L1398.50,313.67 L1400.62,312.75 L1402.75,311.85 L1404.87,310.97 L1407.00,310.11 L1409.12,309.27 L1411.25,308.45 L1413.37,307.66 L1415.50,306.88 L1417.62,306.12 L1419.75,305.39 L1421.88,304.67 L1424.00,303.97 L1426.13,303.29 L1428.25,302.62 L1430.38,301.98 L1432.50,301.35 L1434.63,300.74 L1436.75,300.15 L1438.88,299.57 L1441.00,299.01 L1443.13,298.47 L1445.25,297.95 L1447.38,297.44 L1449.50,296.94 L1451.63,296.46 L1453.76,296.00 L1455.88,295.55 L1458.01,295.12 L1460.13,294.70 L1462.26,294.30 L1464.38,293.91 L1466.51,293.54 L1468.63,293.18 L1470.76,292.83 L1472.88,292.50 L1475.01,292.18 L1477.13,291.87 L1479.26,291.58 L1481.39,291.30 L1483.51,291.03 L1485.64,290.77 L1487.76,290.53 L1489.89,290.29 L1492.01,290.07 L1494.14,289.86 L1496.26,289.66 L1498.39,289.48 L1500.51,289.30 L1502.64,289.13 L1504.76,288.98 L1506.89,288.83 L1509.01,288.69 L1511.14,288.57 L1513.27,288.51 L1515.39,288.51 L1517.52,288.51 L1519.64,288.51 L1521.77,288.51 L1523.89,288.51 L1526.02,288.51 L1528.14,288.51 L1530.27,288.51 L1532.39,288.51 L1534.52,288.51 L1536.64,288.51 L1538.77,288.51 L1540.90,288.51 L1543.02,288.51 L1545.15,288.51 L1547.27,288.51 L1549.40,288.51 L1551.52,288.51 L1553.65,288.51 L1555.77,288.51 L1557.90,288.51 L1560.02,288.51 L1562.15,288.51 L1564.27,288.51 L1566.40,288.51 L1568.52,288.51 L1570.65,288.51 L1572.78,288.51 L1574.90,288.51 L1577.03,288.51 L1579.15,288.51 L1581.28,288.51 L1583.40,288.51 L1585.53,288.51 L1587.65,288.51 L1589.78,288.51 L1591.90,288.51 L1594.03,288.51 L1596.15,288.51 L1598.28,288.51 L1600.41,288.51 L1602.53,288.51 L1604.66,288.51 L1606.78,288.51 L1608.91,288.51 L1611.03,288.51 L1613.16,288.51 L1615.28,288.51 L1617.41,288.51 L1619.53,288.51 L1621.66,288.51 L1623.78,288.51 L1625.91,288.51 L1628.03,288.51 L1630.16,288.51 L1632.29,288.51 L1634.41,288.51 L1636.54,288.51 L1638.66,288.51 L1640.79,288.51 L1642.91,288.51 L1645.04,288.51 L1647.16,288.51 L1649.29,288.51 L1651.41,288.51 L1653.54,288.51 L1655.66,288.51 L1657.79,288.51 L1659.92,288.51 L1662.04,288.51 L1664.17,288.51 L1666.29,288.51 L1668.42,288.51 L1670.54,288.51 L1672.67,288.51 L1674.79,288.51 L1676.92,288.51 L1679.04,288.51 L1681.17,288.51 L1683.29,288.51 L1685.42,288.51 L1687.54,288.51 L1689.67,288.51 L1691.80,288.51 L1693.92,288.51 L1696.05,288.51 L1698.17,288.51 L1700.30,288.51 L1702.42,288.51 L1704.55,288.51 L1706.67,288.51 L1708.80,288.51 L1710.92,288.51 L1713.05,288.51 L1715.17,288.51 L1717.30,288.51" stroke="#00c800"/>
<path d="M229.55,1144.81 L231.68,1144.81 L233.80,1144.81 L235.93,1144.81 L238.05,1144.81 L240.18,1144.81 L242.30,1144.81 L244.43,1144.81 L246.55,1144.81 L248.68,1144.81 L250.80,1144.81 L252.93,1144.81 L255.05,1144.81 L257.18,1144.81 L259.31,1144.81 L261.43,1144.81 L263.56,1144.81 L265.68,1144.81 L267.81,1144.81 L269.93,1144.81 L272.06,1144.81 L274.18,1144.81 L276.31,1144.81 L278.43,1144.81 L280.56,1144.81 L282.68,1144.81 L284.81,1144.81 L286.93,1144.81 L289.06,1144.81 L291.19,1144.81 L293.31,1144.81 L295.44,1144.81 L297.56,1144.81 L299.69,1144.81 L301.81,1144.81 L303.94,1144.81 L306.06,1144.81 L308.19,1144.80 L310.31,1144.79 L312.44,1144.77 L314.56,1144.76 L316.69,1144.74 L318.81,1144.73 L320.94,1144.72 L323.07,1144.70 L325.19,1144.69 L327.32,1144.68 L329.44,1144.67 L331.57,1144.65 L333.69,1144.64 L335.82,1144.63 L337.94,1144.62 L340.07,1144.61 L342.19,1144.61 L344.32,1144.60 L346.44,1144.59 L348.57,1144.59 L350.70,1144.58 L352.82,1144.58 L354.95,1144.58 L357.07,1144.58 L359.20,1144.58 L361.32,1144.58 L363.45,1144.58 L365.57,1144.58 L367.70,1144.58 L369.82,1144.58 L371.95,1144.58 L374.07,1144.58 L376.20,1144.58 L378.32,1144.58 L380.45,1144.58 L382.58,1144.58 L384.70,1144.58 L386.83,1144.58 L388.95,1144.58 L391.08,1144.58 L393.20,1144.58 L395.33,1144.58 L397.45,1144.58 L399.58,1144.58 L401.70,1144.58 L403.83,1144.58 L405.95,1144.58 L408.08,1144.58 L410.21,1144.58 L412.33,1144.58 L414.46,1144.58 L416.58,1144.58 L418.71,1144.58 L420.83,1144.58 L422.96,1144.58 L425.08,1144.58 L427.21,1144.58 L429.33,1144.58 L431.46,1144.58 L433.58,1144.58 L435.71,1144.58 L437.84,1144.58 L439.96,1144.58 L442.09,1144.58 L444.21,1144.58 L446.34,1144.58 L448.46,1144.58 L450.59,1144.58 L452.71,1144.58 L454.84,1144.58 L456.96,1144.58 L459.09,1144.58 L461.21,1144.58 L463.34,1144.58 L465.46,1144.58 L467.59,1144.58 L469.72,1144.58 L471.84,1144.58 L473.97,1144.58 L476.09,1144.58 L478.22,1144.58 L480.34,1144.58 L482.47,1144.58 L484.59,1144.58 L486.72,1144.58 L488.84,1144.58 L490.97,1144.58 L493.09,1144.58 L495.22,1144.58 L497.34,1144.58 L499.47,1144.58 L501.60,1144.58 L503.72,1144.53 L505.85,1144.48 L507.97,1144.43 L510.10,1144.38 L512.22,1144.32 L514.35,1144.26 L516.47,1144.20 L518.60,1144.13 L520.72,1144.06 L522.85,1143.99 L524.97,1143.92 L527.10,1143.84 L529.23,1143.76 L531.35,1143.68 L533.48,1143.59 L535.60,1143.50 L537.73,1143.41 L539.85,1143.32 L541.98,1143.22 L544.10,1143.12 L546.23,1143.01 L548.35,1142.91 L550.48,1142.80 L552.60,1142.68 L554.73,1142.56 L556.86,1142.44 L558.98,1142.32 L561.11,1142.19 L563.23,1142.06 L565.36,1141.93 L567.48,1141.79 L569.61,1141.65 L571.73,1141.51 L573.86,1141.36 L575.98,1141.21 L578.11,1141.05 L580.23,1140.90 L582.36,1140.73 L584.48,1140.57 L586.61,1140.40 L588.74,1140.23 L590.86,1140.05 L592.99,1139.87 L595.11,1139.69 L597.24,1139.50 L599.36,1139.31 L601.49,1139.11 L603.61,1138.92 L605.74,1138.71 L607.86,1138.51 L609.99,1138.30 L612.11,1138.08 L614.24,1137.87 L616.37,1137.64 L618.49,1137.42 L620.62,1137.19 L622.74,1136.95 L624.87,1136.72 L626.99,1136.47 L629.12,1136.23 L631.24,1135.98 L633.37,1135.72 L635.49,1135.47 L637.62,1135.20 L639.74,1134.94 L641.87,1134.67 L643.99,1134.39 L646.12,1134.11 L648.25,1133.83 L650.37,1133.54 L652.50,1133.25 L654.62,1132.95 L656.75,1132.65 L658.87,1132.35 L661.00,1132.04 L663.12,1131.74 L665.25,1131.43 L667.37,1131.12 L669.50,1130.81 L671.62,1130.51 L673.75,1130.20 L675.88,1129.89 L678.00,1129.59 L680.13,1129.29 L682.25,1128.99 L684.38,1128.69 L686.50,1128.40 L688.63,1128.11 L690.75,1127.82 L692.88,1127.55 L695.00,1127.27 L697.13,1127.01 L699.25,1126.75 L701.38,1126.50 L703.50,1126.25 L705.63,1126.02 L707.76,1125.79 L709.88,1125.57 L712.01,1125.36 L714.13,1125.16 L716.26,1124.97 L718.38,1124.78 L720.51,1124.60 L722.63,1124.43 L724.76,1124.25 L726.88,1124.09 L729.01,1123.92 L731.13,1123.76 L733.26,1123.60 L735.38,1123.44 L737.51,1123.28 L739.64,1123.11 L741.76,1122.95 L743.89,1122.78 L746.01,1122.61 L748.14,1122.44 L750.26,1122.26 L752.39,1122.07 L754.51,1121.88 L756.64,1121.68 L758.76,1121.47 L760.89,1121.25 L763.01,1121.03 L765.14,1120.79 L767.27,1120.54 L769.39,1120.28 L771.52,1120.00 L773.64,1119.71 L775.77,1119.41 L777.89,1119.10 L780.02,1118.77 L782.14,1118.42 L784.27,1118.06 L786.39,1117.69 L788.52,1117.30 L790.64,1116.89 L792.77,1116.46 L794.89,1116.02 L797.02,1115.55 L799.15,1115.07 L801.27,1114.58 L803.40,1114.06 L805.52,1113.52 L807.65,1112.96 L809.77,1112.38 L811.90,1111.78 L814.02,1111.16 L816.15,1110.51 L818.27,1109.85 L820.40,1109.16 L822.52,1108.44 L824.65,1107.71 L826.78,1106.94 L828.90,1106.16 L831.03,1105.35 L833.15,1104.51 L835.28,1103.65 L837.40,1102.76 L839.53,1101.84 L841.65,1100.90 L843.78,1099.93 L845.90,1098.93 L848.03,1097.90 L850.15,1096.85 L852.28,1095.76 L854.40,1094.65 L856.53,1093.50 L858.66,1092.32 L860.78,1091.12 L862.91,1089.88 L865.03,1088.61 L867.16,1087.31 L869.28,1085.97 L871.41,1084.60 L873.53,1083.20 L875.66,1081.77 L877.78,1080.30 L879.91,1078.79 L882.03,1077.25 L884.16,1075.68 L886.29,1074.07 L888.41,1072.42 L890.54,1070.73 L892.66,1069.01 L894.79,1067.25 L896.91,1065.45 L899.04,1063.62 L901.16,1061.74 L903.29,1059.83 L905.41,1057.87 L907.54,1055.88 L909.66,1053.84 L911.79,1051.77 L913.91,1049.65 L916.04,1047.49 L918.17,1045.29 L920.29,1043.05 L922.42,1040.76 L924.54,1038.43 L926.67,1036.06 L928.79,1033.64 L930.92,1031.18 L933.04,1028.68 L935.17,1026.14 L937.29,1023.55 L939.42,1020.92 L941.54,1018.25 L943.67,1015.53 L945.80,1012.77 L947.92,1009.97 L950.05,1007.13 L952.17,1004.24 L954.30,1001.31 L956.42,998.34 L958.55,995.32 L960.67,992.26 L962.80,989.16 L964.92,986.01 L967.05,982.82 L969.17,979.59 L971.30,976.32 L973.42,973.00 L975.55,969.64 L977.68,966.24 L979.80,962.79 L981.93,959.30 L984.05,955.77 L986.18,952.19 L988.30,948.57 L990.43,944.91 L992.55,941.21 L994.68,937.46 L996.80,933.68 L998.93,929.86 L1001.05,926.00 L1003.18,922.12 L1005.31,918.20 L1007.43,914.24 L1009.56,910.27 L1011.68,906.26 L1013.81,902.23 L1015.93,898.18 L1018.06,894.10 L1020.18,890.00 L1022.31,885.89 L1024.43,881.76 L1026.56,877.62 L1028.68,873.46 L1030.81,869.29 L1032.93,865.11 L1035.06,860.93 L1037.19,856.73 L1039.31,852.54 L1041.44,848.34 L1043.56,844.14 L1045.69,839.94 L1047.81,835.74 L1049.94,831.54 L1052.06,827.35 L1054.19,823.16 L1056.31,818.96 L1058.44,814.78 L1060.56,810.59 L1062.69,806.41 L1064.82,802.23 L1066.94,798.06 L1069.07,793.89 L1071.19,789.72 L1073.32,785.56 L1075.44,781.41 L1077.57,777.26 L1079.69,773.11 L1081.82,768.97 L1083.94,764.84 L1086.07,760.72 L1088.19,756.60 L1090.32,752.49 L1092.44,748.38 L1094.57,744.29 L1096.70,740.20 L1098.82,736.12 L1100.95,732.05 L1103.07,727.99 L1105.20,723.94 L1107.32,719.89 L1109.45,715.86 L1111.57,711.84 L1113.70,707.83 L1115.82,703.82 L1117.95,699.83 L1120.07,695.85 L1122.20,691.89 L1124.33,687.93 L1126.45,683.99 L1128.58,680.06 L1130.70,676.14 L1132.83,672.23 L1134.95,668.33 L1137.08,664.44 L1139.20,660.57 L1141.33,656.70 L1143.45,652.84 L1145.58,648.98 L1147.70,645.14 L1149.83,641.30 L1151.95,637.47 L1154.08,633.65 L1156.21,629.83 L1158.33,626.02 L1160.46,622.21 L1162.58,618.41 L1164.71,614.61 L1166.83,610.81 L1168.96,607.02 L1171.08,603.23 L1173.21,599.44 L1175.33,595.66 L1177.46,591.87 L1179.58,588.09 L1181.71,584.31 L1183.84,580.52 L1185.96,576.74 L1188.09,572.96 L1190.21,569.17 L1192.34,565.38 L1194.46,561.59 L1196.59,557.80 L1198.71,554.01 L1200.84,550.21 L1202.96,546.40 L1205.09,542.60 L1207.21,538.78 L1209.34,534.97 L1211.46,531.14 L1213.59,527.31 L1215.72,523.48 L1217.84,519.64 L1219.97,515.81 L1222.09,511.98 L1224.22,508.15 L1226.34,504.32 L1228.47,500.50 L1230.59,496.69 L1232.72,492.90 L1234.84,489.11 L1236.97,485.34 L1239.09,481.58 L1241.22,477.84 L1243.35,474.12 L1245.47,470.42 L1247.60,466.74 L1249.72,463.09 L1251.85,459.46 L1253.97,455.86 L1256.10,452.30 L1258.22,448.76 L1260.35,445.25 L1262.47,441.78 L1264.60,438.35 L1266.72,434.95 L1268.85,431.60 L1270.97,428.28 L1273.10,425.01 L1275.23,421.79 L1277.35,418.61 L1279.48,415.48 L1281.60,412.41 L1283.73,409.38 L1285.85,406.41 L1287.98,403.49 L1290.10,400.63 L1292.23,397.83 L1294.35,395.09 L1296.48,392.42 L1298.60,389.80 L1300.73,387.25 L1302.86,384.76 L1304.98,382.33 L1307.11,379.95 L1309.23,377.63 L1311.36,375.36 L1313.48,373.14 L1315.61,370.98 L1317.73,368.86 L1319.86,366.79 L1321.98,364.76 L1324.11,362.78 L1326.23,360.84 L1328.36,358.94 L1330.48,357.09 L1332.61,355.26 L1334.74,353.48 L1336.86,351.73 L1338.99,350.01 L1341.11,348.32 L1343.24,346.66 L1345.36,345.03 L1347.49,343.43 L1349.61,341.86 L1351.74,340.32 L1353.86,338.81 L1355.99,337.32 L1358.11,335.86 L1360.24,334.44 L1362.37,333.03 L1364.49,331.66 L1366.62,330.31 L1368.74,328.99 L1370.87,327.70 L1372.99,326.43 L1375.12,325.19 L1377.24,323.97 L1379.37,322.78 L1381.49,321.62 L1383.62,320.48 L1385.74,319.36 L1387.87,318.27 L1389.99,317.21 L1392.12,316.17 L1394.25,315.15 L1396.37,314.15 L1398.50,313.18 L1400.62,312.23 L1402.75,311.31 L1404.87,310.40 L1407.00,309.52 L1409.12,308.66 L1411.25,307.83 L1413.37,307.01 L1415.50,306.22 L1417.62,305.44 L1419.75,304.69 L1421.88,303.96 L1424.00,303.25 L1426.13,302.56 L1428.25,301.88 L1430.38,301.23 L1432.50,300.60 L1434.63,299.98 L1436.75,299.39 L1438.88,298.81 L1441.00,298.25 L1443.13,297.71 L1445.25,297.19 L1447.38,296.69 L1449.50,296.20 L1451.63,295.73 L1453.76,295.27 L1455.88,294.84 L1458.01,294.41 L1460.13,294.01 L1462.26,293.62 L1464.38,293.25 L1466.51,292.89 L1468.63,292.54 L1470.76,292.21 L1472.88,291.90 L1475.01,291.60 L1477.13,291.31 L1479.26,291.04 L1481.39,290.78 L1483.51,290.54 L1485.64,290.30 L1487.76,290.09 L1489.89,289.88 L1492.01,289.68 L1494.14,289.50 L1496.26,289.33 L1498.39,289.17 L1500.51,289.02 L1502.64,288.88 L1504.76,288.76 L1506.89,288.64 L1509.01,288.53 L1511.14,288.51 L1513.27,288.51 L1515.39,288.51 L1517.52,288.51 L1519.64,288.51 L1521.77,288.51 L1523.89,288.51 L1526.02,288.51 L1528.14,288.51 L1530.27,288.51 L1532.39,288.51 L1534.52,288.51 L1536.64,288.51 L1538.77,288.51 L1540.90,288.51 L1543.02,288.51 L1545.15,288.51 L1547.27,288.51 L1549.40,288.51 L1551.52,288.51 L1553.65,288.51 L1555.77,288.51 L1557.90,288.51 L1560.02,288.51 L1562.15,288.51 L1564.27,288.51 L1566.40,288.51 L1568.52,288.51 L1570.65,288.51 L1572.78,288.51 L1574.90,288.51 L1577.03,288.51 L1579.15,288.51 L1581.28,288.51 L1583.40,288.51 L1585.53,288.51 L1587.65,288.51 L1589.78,288.51 L1591.90,288.51 L1594.03,288.51 L1596.15,288.51 L1598.28,288.51 L1600.41,288.51 L1602.53,288.51 L1604.66,288.51 L1606.78,288.51 L1608.91,288.51 L1611.03,288.51 L1613.16,288.51 L1615.28,288.51 L1617.41,288.51 L1619.53,288.51 L1621.66,288.51 L1623.78,288.51 L1625.91,288.51 L1628.03,288.51 L1630.16,288.51 L1632.29,288.51 L1634.41,288.51 L1636.54,288.51 L1638.66,288.51 L1640.79,288.51 L1642.91,288.51 L1645.04,288.51 L1647.16,288.51 L1649.29,288.51 L1651.41,288.51 L1653.54,288.51 L1655.66,288.51 L1657.79,288.51 L1659.92,288.51 L1662.04,288.51 L1664.17,288.51 L1666.29,288.51 L1668.42,288.51 L1670.54,288.51 L1672.67,288.51 L1674.79,288.51 L1676.92,288.51 L1679.04,288.51 L1681.17,288.51 L1683.29,288.51 L1685.42,288.51 L1687.54,288.51 L1689.67,288.51 L1691.80,288.51 L1693.92,288.51 L1696.05,288.51 L1698.17,288.51 L1700.30,288.51 L1702.42,288.51 L1704.55,288.51 L1706.67,288.51 L1708.80,288.51 L1710.92,288.51 L1713.05,288.51 L1715.17,288.51 L1717.30,288.51" stroke="#be00be" stroke-dasharray="22.783 17.692 0.706 17.692"/>
<path d="M229.55,1144.90 L231.68,1144.90 L233.80,1144.90 L235.93,1144.90 L238.05,1144.90 L240.18,1144.90 L242.30,1144.90 L244.43,1144.90 L246.55,1144.90 L248.68,1144.90 L250.80,1144.90 L252.93,1144.90 L255.05,1144.90 L257.18,1144.90 L259.31,1144.90 L261.43,1144.90 L263.56,1144.90 L265.68,1144.90 L267.81,1144.90 L269.93,1144.90 L272.06,1144.90 L274.18,1144.90 L276.31,1144.90 L278.43,1144.90 L280.56,1144.90 L282.68,1144.89 L284.81,1144.88 L286.93,1144.88 L289.06,1144.87 L291.19,1144.86 L293.31,1144.85 L295.44,1144.84 L297.56,1144.83 L299.69,1144.82 L301.81,1144.80 L303.94,1144.79 L306.06,1144.78 L308.19,1144.77 L310.31,1144.75 L312.44,1144.74 L314.56,1144.73 L316.69,1144.71 L318.81,1144.70 L320.94,1144.68 L323.07,1144.67 L325.19,1144.65 L327.32,1144.63 L329.44,1144.62 L331.57,1144.60 L333.69,1144.58 L335.82,1144.56 L337.94,1144.55 L340.07,1144.53 L342.19,1144.51 L344.32,1144.49 L346.44,1144.47 L348.57,1144.45 L350.70,1144.43 L352.82,1144.41 L354.95,1144.38 L357.07,1144.36 L359.20,1144.34 L361.32,1144.32 L363.45,1144.30 L365.57,1144.27 L367.70,1144.25 L369.82,1144.23 L371.95,1144.20 L374.07,1144.18 L376.20,1144.15 L378.32,1144.13 L380.45,1144.10 L382.58,1144.08 L384.70,1144.05 L386.83,1144.03 L388.95,1144.00 L391.08,1143.98 L393.20,1143.95 L395.33,1143.92 L397.45,1143.89 L399.58,1143.87 L401.70,1143.84 L403.83,1143.81 L405.95,1143.78 L408.08,1143.75 L410.21,1143.73 L412.33,1143.70 L414.46,1143.67 L416.58,1143.64 L418.71,1143.61 L420.83,1143.58 L422.96,1143.55 L425.08,1143.52 L427.21,1143.49 L429.33,1143.46 L431.46,1143.43 L433.58,1143.40 L435.71,1143.37 L437.84,1143.33 L439.96,1143.30 L442.09,1143.27 L444.21,1143.24 L446.34,1143.21 L448.46,1143.17 L450.59,1143.14 L452.71,1143.10 L454.84,1143.07 L456.96,1143.03 L459.09,1142.99 L461.21,1142.96 L463.34,1142.92 L465.46,1142.88 L467.59,1142.84 L469.72,1142.79 L471.84,1142.75 L473.97,1142.70 L476.09,1142.65 L478.22,1142.61 L480.34,1142.55 L482.47,1142.50 L484.59,1142.45 L486.72,1142.39 L488.84,1142.33 L490.97,1142.27 L493.09,1142.21 L495.22,1142.14 L497.34,1142.08 L499.47,1142.01 L501.60,1141.93 L503.72,1141.86 L505.85,1141.78 L507.97,1141.70 L510.10,1141.62 L512.22,1141.53 L514.35,1141.44 L516.47,1141.35 L518.60,1141.25 L520.72,1141.15 L522.85,1141.05 L524.97,1140.94 L527.10,1140.83 L529.23,1140.72 L531.35,1140.61 L533.48,1140.49 L535.60,1140.36 L537.73,1140.23 L539.85,1140.10 L541.98,1139.97 L544.10,1139.83 L546.23,1139.68 L548.35,1139.53 L550.48,1139.38 L552.60,1139.22 L554.73,1139.06 L556.86,1138.89 L558.98,1138.72 L561.11,1138.55 L563.23,1138.37 L565.36,1138.18 L567.48,1137.99 L569.61,1137.79 L571.73,1137.59 L573.86,1137.39 L575.98,1137.18 L578.11,1136.96 L580.23,1136.74 L582.36,1136.51 L584.48,1136.28 L586.61,1136.04 L588.74,1135.79 L590.86,1135.54 L592.99,1135.28 L595.11,1135.02 L597.24,1134.75 L599.36,1134.48 L601.49,1134.19 L603.61,1133.91 L605.74,1133.61 L607.86,1133.31 L609.99,1133.00 L612.11,1132.69 L614.24,1132.37 L616.37,1132.04 L618.49,1131.71 L620.62,1131.36 L622.74,1131.02 L624.87,1130.66 L626.99,1130.30 L629.12,1129.93 L631.24,1129.55 L633.37,1129.16 L635.49,1128.77 L637.62,1128.37 L639.74,1127.96 L641.87,1127.54 L643.99,1127.12 L646.12,1126.69 L648.25,1126.25 L650.37,1125.80 L652.50,1125.34 L654.62,1124.87 L656.75,1124.39 L658.87,1123.91 L661.00,1123.41 L663.12,1122.90 L665.25,1122.39 L667.37,1121.86 L669.50,1121.32 L671.62,1120.77 L673.75,1120.21 L675.88,1119.64 L678.00,1119.06 L680.13,1118.47 L682.25,1117.87 L684.38,1117.25 L686.50,1116.62 L688.63,1115.98 L690.75,1115.33 L692.88,1114.66 L695.00,1113.98 L697.13,1113.29 L699.25,1112.59 L701.38,1111.87 L703.50,1111.14 L705.63,1110.39 L707.76,1109.63 L709.88,1108.86 L712.01,1108.07 L714.13,1107.27 L716.26,1106.45 L718.38,1105.62 L720.51,1104.77 L722.63,1103.90 L724.76,1103.03 L726.88,1102.13 L729.01,1101.22 L731.13,1100.29 L733.26,1099.35 L735.38,1098.39 L737.51,1097.41 L739.64,1096.42 L741.76,1095.41 L743.89,1094.38 L746.01,1093.34 L748.14,1092.27 L750.26,1091.19 L752.39,1090.09 L754.51,1088.97 L756.64,1087.84 L758.76,1086.68 L760.89,1085.51 L763.01,1084.31 L765.14,1083.10 L767.27,1081.87 L769.39,1080.62 L771.52,1079.35 L773.64,1078.06 L775.77,1076.74 L777.89,1075.41 L780.02,1074.06 L782.14,1072.68 L784.27,1071.29 L786.39,1069.87 L788.52,1068.44 L790.64,1066.98 L792.77,1065.49 L794.89,1063.99 L797.02,1062.47 L799.15,1060.92 L801.27,1059.35 L803.40,1057.75 L805.52,1056.14 L807.65,1054.50 L809.77,1052.83 L811.90,1051.15 L814.02,1049.44 L816.15,1047.70 L818.27,1045.94 L820.40,1044.16 L822.52,1042.35 L824.65,1040.52 L826.78,1038.66 L828.90,1036.78 L831.03,1034.87 L833.15,1032.94 L835.28,1030.98 L837.40,1028.99 L839.53,1026.98 L841.65,1024.94 L843.78,1022.88 L845.90,1020.78 L848.03,1018.67 L850.15,1016.52 L852.28,1014.35 L854.40,1012.16 L856.53,1009.94 L858.66,1007.69 L860.78,1005.42 L862.91,1003.12 L865.03,1000.80 L867.16,998.45 L869.28,996.08 L871.41,993.68 L873.53,991.25 L875.66,988.81 L877.78,986.34 L879.91,983.84 L882.03,981.32 L884.16,978.77 L886.29,976.21 L888.41,973.61 L890.54,971.00 L892.66,968.36 L894.79,965.70 L896.91,963.01 L899.04,960.30 L901.16,957.57 L903.29,954.81 L905.41,952.03 L907.54,949.23 L909.66,946.41 L911.79,943.57 L913.91,940.70 L916.04,937.81 L918.17,934.90 L920.29,931.96 L922.42,929.01 L924.54,926.03 L926.67,923.03 L928.79,920.01 L930.92,916.97 L933.04,913.91 L935.17,910.83 L937.29,907.72 L939.42,904.60 L941.54,901.45 L943.67,898.29 L945.80,895.10 L947.92,891.90 L950.05,888.67 L952.17,885.43 L954.30,882.16 L956.42,878.88 L958.55,875.57 L960.67,872.25 L962.80,868.91 L964.92,865.54 L967.05,862.16 L969.17,858.76 L971.30,855.34 L973.42,851.91 L975.55,848.46 L977.68,844.99 L979.80,841.50 L981.93,838.00 L984.05,834.48 L986.18,830.95 L988.30,827.41 L990.43,823.85 L992.55,820.28 L994.68,816.70 L996.80,813.10 L998.93,809.50 L1001.05,805.88 L1003.18,802.26 L1005.31,798.62 L1007.43,794.97 L1009.56,791.32 L1011.68,787.66 L1013.81,783.99 L1015.93,780.32 L1018.06,776.63 L1020.18,772.95 L1022.31,769.25 L1024.43,765.56 L1026.56,761.85 L1028.68,758.15 L1030.81,754.44 L1032.93,750.73 L1035.06,747.02 L1037.19,743.30 L1039.31,739.59 L1041.44,735.87 L1043.56,732.16 L1045.69,728.44 L1047.81,724.73 L1049.94,721.02 L1052.06,717.31 L1054.19,713.61 L1056.31,709.90 L1058.44,706.21 L1060.56,702.51 L1062.69,698.82 L1064.82,695.14 L1066.94,691.46 L1069.07,687.79 L1071.19,684.13 L1073.32,680.48 L1075.44,676.83 L1077.57,673.19 L1079.69,669.56 L1081.82,665.95 L1083.94,662.34 L1086.07,658.74 L1088.19,655.16 L1090.32,651.58 L1092.44,648.02 L1094.57,644.47 L1096.70,640.94 L1098.82,637.42 L1100.95,633.91 L1103.07,630.41 L1105.20,626.93 L1107.32,623.46 L1109.45,620.01 L1111.57,616.58 L1113.70,613.15 L1115.82,609.75 L1117.95,606.36 L1120.07,602.99 L1122.20,599.63 L1124.33,596.29 L1126.45,592.97 L1128.58,589.67 L1130.70,586.39 L1132.83,583.12 L1134.95,579.87 L1137.08,576.64 L1139.20,573.44 L1141.33,570.25 L1143.45,567.08 L1145.58,563.93 L1147.70,560.81 L1149.83,557.70 L1151.95,554.62 L1154.08,551.56 L1156.21,548.52 L1158.33,545.50 L1160.46,542.51 L1162.58,539.54 L1164.71,536.59 L1166.83,533.67 L1168.96,530.77 L1171.08,527.90 L1173.21,525.05 L1175.33,522.22 L1177.46,519.43 L1179.58,516.66 L1181.71,513.91 L1183.84,511.19 L1185.96,508.50 L1188.09,505.84 L1190.21,503.20 L1192.34,500.59 L1194.46,498.02 L1196.59,495.47 L1198.71,492.94 L1200.84,490.45 L1202.96,487.99 L1205.09,485.55 L1207.21,483.15 L1209.34,480.77 L1211.46,478.43 L1213.59,476.11 L1215.72,473.82 L1217.84,471.56 L1219.97,469.32 L1222.09,467.12 L1224.22,464.94 L1226.34,462.80 L1228.47,460.68 L1230.59,458.59 L1232.72,456.52 L1234.84,454.49 L1236.97,452.48 L1239.09,450.50 L1241.22,448.55 L1243.35,446.63 L1245.47,444.73 L1247.60,442.86 L1249.72,441.02 L1251.85,439.20 L1253.97,437.42 L1256.10,435.66 L1258.22,433.92 L1260.35,432.22 L1262.47,430.54 L1264.60,428.89 L1266.72,427.26 L1268.85,425.67 L1270.97,424.09 L1273.10,422.55 L1275.23,421.03 L1277.35,419.54 L1279.48,418.07 L1281.60,416.63 L1283.73,415.22 L1285.85,413.83 L1287.98,412.47 L1290.10,411.14 L1292.23,409.83 L1294.35,408.55 L1296.48,407.29 L1298.60,406.06 L1300.73,404.85 L1302.86,403.67 L1304.98,402.51 L1307.11,401.38 L1309.23,400.27 L1311.36,399.19 L1313.48,398.13 L1315.61,397.09 L1317.73,396.08 L1319.86,395.08 L1321.98,394.11 L1324.11,393.17 L1326.23,392.24 L1328.36,391.34 L1330.48,390.45 L1332.61,389.59 L1334.74,388.75 L1336.86,387.93 L1338.99,387.13 L1341.11,386.35 L1343.24,385.59 L1345.36,384.84 L1347.49,384.12 L1349.61,383.41 L1351.74,382.73 L1353.86,382.06 L1355.99,381.41 L1358.11,380.77 L1360.24,380.15 L1362.37,379.55 L1364.49,378.97 L1366.62,378.40 L1368.74,377.85 L1370.87,377.31 L1372.99,376.79 L1375.12,376.28 L1377.24,375.79 L1379.37,375.31 L1381.49,374.85 L1383.62,374.40 L1385.74,373.96 L1387.87,373.54 L1389.99,373.13 L1392.12,372.73 L1394.25,372.34 L1396.37,371.97 L1398.50,371.61 L1400.62,371.26 L1402.75,370.92 L1404.87,370.59 L1407.00,370.27 L1409.12,369.97 L1411.25,369.67 L1413.37,369.39 L1415.50,369.11 L1417.62,368.85 L1419.75,368.60 L1421.88,368.35 L1424.00,368.12 L1426.13,367.90 L1428.25,367.68 L1430.38,367.48 L1432.50,367.28 L1434.63,367.10 L1436.75,366.92 L1438.88,366.75 L1441.00,366.59 L1443.13,366.44 L1445.25,366.30 L1447.38,366.16 L1449.50,366.03 L1451.63,365.92 L1453.76,365.81 L1455.88,365.76 L1458.01,365.76 L1460.13,365.76 L1462.26,365.76 L1464.38,365.76 L1466.51,365.76 L1468.63,365.76 L1470.76,365.76 L1472.88,365.76 L1475.01,365.76 L1477.13,365.76 L1479.26,365.76 L1481.39,365.76 L1483.51,365.76 L1485.64,365.76 L1487.76,365.76 L1489.89,365.76 L1492.01,365.76 L1494.14,365.76 L1496.26,365.76 L1498.39,365.76 L1500.51,365.76 L1502.64,365.76 L1504.76,365.76 L1506.89,365.76 L1509.01,365.76 L1511.14,365.76 L1513.27,365.76 L1515.39,365.76 L1517.52,365.76 L1519.64,365.76 L1521.77,365.76 L1523.89,365.76 L1526.02,365.76 L1528.14,365.76 L1530.27,365.76 L1532.39,365.76 L1534.52,365.76 L1536.64,365.76 L1538.77,365.76 L1540.90,365.76 L1543.02,365.76 L1545.15,365.76 L1547.27,365.76 L1549.40,365.76 L1551.52,365.76 L1553.65,365.76 L1555.77,365.76 L1557.90,365.76 L1560.02,365.76 L1562.15,365.76 L1564.27,365.76 L1566.40,365.76 L1568.52,365.76 L1570.65,365.76 L1572.78,365.76 L1574.90,365.76 L1577.03,365.76 L1579.15,365.76 L1581.28,365.76 L1583.40,365.76 L1585.53,365.76 L1587.65,365.76 L1589.78,365.76 L1591.90,365.76 L1594.03,365.76 L1596.15,365.76 L1598.28,365.76 L1600.41,365.76 L1602.53,365.76 L1604.66,365.76 L1606.78,365.76 L1608.91,365.76 L1611.03,365.76 L1613.16,365.76 L1615.28,365.76 L1617.41,365.76 L1619.53,365.76 L1621.66,365.76 L1623.78,365.76 L1625.91,365.76 L1628.03,365.76 L1630.16,365.76 L1632.29,365.76 L1634.41,365.76 L1636.54,365.76 L1638.66,365.76 L1640.79,365.76 L1642.91,365.76 L1645.04,365.76 L1647.16,365.76 L1649.29,365.76 L1651.41,365.76 L1653.54,365.76 L1655.66,365.76 L1657.79,365.76 L1659.92,365.76 L1662.04,365.76 L1664.17,365.76 L1666.29,365.76 L1668.42,365.76 L1670.54,365.76 L1672.67,365.76 L1674.79,365.76 L1676.92,365.76 L1679.04,365.76 L1681.17,365.76 L1683.29,365.76 L1685.42,365.76 L1687.54,365.76 L1689.67,365.76 L1691.80,365.76 L1693.92,365.76 L1696.05,365.76 L1698.17,365.76 L1700.30,365.76 L1702.42,365.76 L1704.55,365.76 L1706.67,365.76 L1708.80,365.76 L1710.92,365.76 L1713.05,365.76 L1715.17,365.76 L1717.30,365.76" stroke="#ff0080" stroke-dasharray="12.156 21.498"/>
<path d="M229.55,1144.59 L231.68,1144.59 L233.80,1144.59 L235.93,1144.59 L238.05,1144.59 L240.18,1144.59 L242.30,1144.59 L244.43,1144.59 L246.55,1144.59 L248.68,1144.59 L250.80,1144.59 L252.93,1144.59 L255.05,1144.59 L257.18,1144.59 L259.31,1144.59 L261.43,1144.59 L263.56,1144.59 L265.68,1144.59 L267.81,1144.59 L269.93,1144.59 L272.06,1144.59 L274.18,1144.59 L276.31,1144.59 L278.43,1144.59 L280.56,1144.59 L282.68,1144.59 L284.81,1144.59 L286.93,1144.59 L289.06,1144.59 L291.19,1144.59 L293.31,1144.59 L295.44,1144.59 L297.56,1144.59 L299.69,1144.59 L301.81,1144.59 L303.94,1144.59 L306.06,1144.59 L308.19,1144.59 L310.31,1144.59 L312.44,1144.59 L314.56,1144.59 L316.69,1144.59 L318.81,1144.59 L320.94,1144.59 L323.07,1144.59 L325.19,1144.59 L327.32,1144.59 L329.44,1144.59 L331.57,1144.59 L333.69,1144.59 L335.82,1144.59 L337.94,1144.59 L340.07,1144.59 L342.19,1144.56 L344.32,1144.52 L346.44,1144.48 L348.57,1144.43 L350.70,1144.39 L352.82,1144.34 L354.95,1144.29 L357.07,1144.25 L359.20,1144.20 L361.32,1144.15 L363.45,1144.10 L365.57,1144.05 L367.70,1144.00 L369.82,1143.95 L371.95,1143.90 L374.07,1143.85 L376.20,1143.80 L378.32,1143.75 L380.45,1143.70 L382.58,1143.65 L384.70,1143.60 L386.83,1143.55 L388.95,1143.50 L391.08,1143.45 L393.20,1143.40 L395.33,1143.35 L397.45,1143.30 L399.58,1143.26 L401.70,1143.21 L403.83,1143.16 L405.95,1143.11 L408.08,1143.07 L410.21,1143.02 L412.33,1142.98 L414.46,1142.94 L416.58,1142.90 L418.71,1142.85 L420.83,1142.81 L422.96,1142.78 L425.08,1142.74 L427.21,1142.70 L429.33,1142.67 L431.46,1142.63 L433.58,1142.60 L435.71,1142.57 L437.84,1142.54 L439.96,1142.51 L442.09,1142.48 L444.21,1142.46 L446.34,1142.44 L448.46,1142.41 L450.59,1142.39 L452.71,1142.38 L454.84,1142.36 L456.96,1142.34 L459.09,1142.32 L461.21,1142.31 L463.34,1142.30 L465.46,1142.28 L467.59,1142.27 L469.72,1142.26 L471.84,1142.24 L473.97,1142.23 L476.09,1142.22 L478.22,1142.21 L480.34,1142.20 L482.47,1142.19 L484.59,1142.18 L486.72,1142.16 L488.84,1142.15 L490.97,1142.14 L493.09,1142.12 L495.22,1142.11 L497.34,1142.09 L499.47,1142.08 L501.60,1142.06 L503.72,1142.04 L505.85,1142.02 L507.97,1142.00 L510.10,1141.98 L512.22,1141.96 L514.35,1141.93 L516.47,1141.90 L518.60,1141.88 L520.72,1141.84 L522.85,1141.81 L524.97,1141.78 L527.10,1141.74 L529.23,1141.70 L531.35,1141.66 L533.48,1141.61 L535.60,1141.57 L537.73,1141.52 L539.85,1141.47 L541.98,1141.41 L544.10,1141.35 L546.23,1141.29 L548.35,1141.23 L550.48,1141.16 L552.60,1141.09 L554.73,1141.01 L556.86,1140.93 L558.98,1140.85 L561.11,1140.77 L563.23,1140.68 L565.36,1140.58 L567.48,1140.48 L569.61,1140.38 L571.73,1140.28 L573.86,1140.16 L575.98,1140.05 L578.11,1139.93 L580.23,1139.81 L582.36,1139.68 L584.48,1139.54 L586.61,1139.40 L588.74,1139.26 L590.86,1139.11 L592.99,1138.95 L595.11,1138.79 L597.24,1138.63 L599.36,1138.46 L601.49,1138.28 L603.61,1138.10 L605.74,1137.91 L607.86,1137.71 L609.99,1137.51 L612.11,1137.30 L614.24,1137.09 L616.37,1136.87 L618.49,1136.65 L620.62,1136.41 L622.74,1136.17 L624.87,1135.93 L626.99,1135.67 L629.12,1135.41 L631.24,1135.15 L633.37,1134.87 L635.49,1134.59 L637.62,1134.30 L639.74,1134.01 L641.87,1133.70 L643.99,1133.39 L646.12,1133.07 L648.25,1132.74 L650.37,1132.41 L652.50,1132.06 L654.62,1131.71 L656.75,1131.35 L658.87,1130.98 L661.00,1130.61 L663.12,1130.22 L665.25,1129.83 L667.37,1129.42 L669.50,1129.01 L671.62,1128.59 L673.75,1128.16 L675.88,1127.72 L678.00,1127.27 L680.13,1126.82 L682.25,1126.35 L684.38,1125.87 L686.50,1125.39 L688.63,1124.89 L690.75,1124.38 L692.88,1123.87 L695.00,1123.34 L697.13,1122.81 L699.25,1122.26 L701.38,1121.70 L703.50,1121.14 L705.63,1120.56 L707.76,1119.97 L709.88,1119.37 L712.01,1118.76 L714.13,1118.14 L716.26,1117.51 L718.38,1116.87 L720.51,1116.21 L722.63,1115.55 L724.76,1114.87 L726.88,1114.19 L729.01,1113.49 L731.13,1112.78 L733.26,1112.06 L735.38,1111.33 L737.51,1110.58 L739.64,1109.83 L741.76,1109.06 L743.89,1108.28 L746.01,1107.49 L748.14,1106.69 L750.26,1105.88 L752.39,1105.05 L754.51,1104.21 L756.64,1103.36 L758.76,1102.50 L760.89,1101.62 L763.01,1100.74 L765.14,1099.84 L767.27,1098.92 L769.39,1098.00 L771.52,1097.06 L773.64,1096.11 L775.77,1095.15 L777.89,1094.17 L780.02,1093.18 L782.14,1092.18 L784.27,1091.17 L786.39,1090.14 L788.52,1089.10 L790.64,1088.04 L792.77,1086.97 L794.89,1085.89 L797.02,1084.80 L799.15,1083.69 L801.27,1082.57 L803.40,1081.43 L805.52,1080.28 L807.65,1079.12 L809.77,1077.94 L811.90,1076.75 L814.02,1075.54 L816.15,1074.32 L818.27,1073.09 L820.40,1071.84 L822.52,1070.58 L824.65,1069.30 L826.78,1068.01 L828.90,1066.71 L831.03,1065.39 L833.15,1064.05 L835.28,1062.70 L837.40,1061.34 L839.53,1059.96 L841.65,1058.56 L843.78,1057.15 L845.90,1055.73 L848.03,1054.29 L850.15,1052.83 L852.28,1051.36 L854.40,1049.88 L856.53,1048.37 L858.66,1046.86 L860.78,1045.33 L862.91,1043.78 L865.03,1042.21 L867.16,1040.63 L869.28,1039.04 L871.41,1037.43 L873.53,1035.80 L875.66,1034.16 L877.78,1032.50 L879.91,1030.82 L882.03,1029.13 L884.16,1027.42 L886.29,1025.70 L888.41,1023.96 L890.54,1022.20 L892.66,1020.42 L894.79,1018.63 L896.91,1016.82 L899.04,1015.00 L901.16,1013.16 L903.29,1011.30 L905.41,1009.42 L907.54,1007.53 L909.66,1005.62 L911.79,1003.69 L913.91,1001.75 L916.04,999.78 L918.17,997.81 L920.29,995.81 L922.42,993.79 L924.54,991.76 L926.67,989.71 L928.79,987.64 L930.92,985.56 L933.04,983.45 L935.17,981.33 L937.29,979.19 L939.42,977.03 L941.54,974.86 L943.67,972.66 L945.80,970.45 L947.92,968.22 L950.05,965.97 L952.17,963.70 L954.30,961.41 L956.42,959.10 L958.55,956.78 L960.67,954.43 L962.80,952.07 L964.92,949.69 L967.05,947.29 L969.17,944.87 L971.30,942.43 L973.42,939.97 L975.55,937.49 L977.68,935.00 L979.80,932.48 L981.93,929.94 L984.05,927.39 L986.18,924.81 L988.30,922.22 L990.43,919.60 L992.55,916.97 L994.68,914.32 L996.80,911.66 L998.93,908.97 L1001.05,906.27 L1003.18,903.56 L1005.31,900.83 L1007.43,898.08 L1009.56,895.32 L1011.68,892.55 L1013.81,889.76 L1015.93,886.96 L1018.06,884.14 L1020.18,881.32 L1022.31,878.48 L1024.43,875.63 L1026.56,872.77 L1028.68,869.90 L1030.81,867.02 L1032.93,864.13 L1035.06,861.23 L1037.19,858.32 L1039.31,855.40 L1041.44,852.48 L1043.56,849.55 L1045.69,846.61 L1047.81,843.66 L1049.94,840.71 L1052.06,837.76 L1054.19,834.80 L1056.31,831.83 L1058.44,828.86 L1060.56,825.89 L1062.69,822.91 L1064.82,819.93 L1066.94,816.95 L1069.07,813.96 L1071.19,810.97 L1073.32,807.98 L1075.44,804.99 L1077.57,802.00 L1079.69,799.01 L1081.82,796.02 L1083.94,793.03 L1086.07,790.04 L1088.19,787.05 L1090.32,784.07 L1092.44,781.08 L1094.57,778.10 L1096.70,775.12 L1098.82,772.14 L1100.95,769.17 L1103.07,766.20 L1105.20,763.23 L1107.32,760.27 L1109.45,757.32 L1111.57,754.37 L1113.70,751.42 L1115.82,748.48 L1117.95,745.55 L1120.07,742.63 L1122.20,739.71 L1124.33,736.80 L1126.45,733.89 L1128.58,731.00 L1130.70,728.11 L1132.83,725.24 L1134.95,722.37 L1137.08,719.51 L1139.20,716.67 L1141.33,713.83 L1143.45,711.01 L1145.58,708.19 L1147.70,705.39 L1149.83,702.60 L1151.95,699.82 L1154.08,697.05 L1156.21,694.29 L1158.33,691.55 L1160.46,688.82 L1162.58,686.10 L1164.71,683.39 L1166.83,680.70 L1168.96,678.03 L1171.08,675.36 L1173.21,672.71 L1175.33,670.08 L1177.46,667.46 L1179.58,664.86 L1181.71,662.27 L1183.84,659.70 L1185.96,657.14 L1188.09,654.60 L1190.21,652.07 L1192.34,649.56 L1194.46,647.07 L1196.59,644.60 L1198.71,642.14 L1200.84,639.70 L1202.96,637.28 L1205.09,634.88 L1207.21,632.50 L1209.34,630.13 L1211.46,627.79 L1213.59,625.46 L1215.72,623.15 L1217.84,620.86 L1219.97,618.60 L1222.09,616.35 L1224.22,614.12 L1226.34,611.92 L1228.47,609.73 L1230.59,607.57 L1232.72,605.43 L1234.84,603.31 L1236.97,601.21 L1239.09,599.14 L1241.22,597.08 L1243.35,595.06 L1245.47,593.05 L1247.60,591.07 L1249.72,589.11 L1251.85,587.17 L1253.97,585.26 L1256.10,583.37 L1258.22,581.51 L1260.35,579.67 L1262.47,577.86 L1264.60,576.06 L1266.72,574.30 L1268.85,572.55 L1270.97,570.83 L1273.10,569.13 L1275.23,567.46 L1277.35,565.80 L1279.48,564.18 L1281.60,562.57 L1283.73,560.99 L1285.85,559.43 L1287.98,557.89 L1290.10,556.38 L1292.23,554.89 L1294.35,553.42 L1296.48,551.97 L1298.60,550.55 L1300.73,549.15 L1302.86,547.77 L1304.98,546.41 L1307.11,545.08 L1309.23,543.77 L1311.36,542.48 L1313.48,541.21 L1315.61,539.97 L1317.73,538.74 L1319.86,537.54 L1321.98,536.36 L1324.11,535.20 L1326.23,534.07 L1328.36,532.95 L1330.48,531.86 L1332.61,530.79 L1334.74,529.74 L1336.86,528.71 L1338.99,527.70 L1341.11,526.71 L1343.24,525.75 L1345.36,524.80 L1347.49,523.88 L1349.61,522.98 L1351.74,522.10 L1353.86,521.24 L1355.99,520.40 L1358.11,519.58 L1360.24,518.78 L1362.37,518.00 L1364.49,517.24 L1366.62,516.50 L1368.74,515.78 L1370.87,515.08 L1372.99,514.41 L1375.12,513.75 L1377.24,513.10 L1379.37,512.48 L1381.49,511.88 L1383.62,511.29 L1385.74,510.72 L1387.87,510.17 L1389.99,509.63 L1392.12,509.12 L1394.25,508.62 L1396.37,508.13 L1398.50,507.66 L1400.62,507.21 L1402.75,506.77 L1404.87,506.35 L1407.00,505.94 L1409.12,505.55 L1411.25,505.17 L1413.37,504.80 L1415.50,504.45 L1417.62,504.11 L1419.75,503.79 L1421.88,503.47 L1424.00,503.17 L1426.13,502.89 L1428.25,502.61 L1430.38,502.35 L1432.50,502.09 L1434.63,501.85 L1436.75,501.62 L1438.88,501.40 L1441.00,501.19 L1443.13,500.99 L1445.25,500.80 L1447.38,500.62 L1449.50,500.45 L1451.63,500.29 L1453.76,500.14 L1455.88,499.99 L1458.01,499.85 L1460.13,499.72 L1462.26,499.60 L1464.38,499.49 L1466.51,499.38 L1468.63,499.28 L1470.76,499.18 L1472.88,499.09 L1475.01,499.01 L1477.13,498.93 L1479.26,498.86 L1481.39,498.79 L1483.51,498.73 L1485.64,498.67 L1487.76,498.63 L1489.89,498.63 L1492.01,498.63 L1494.14,498.63 L1496.26,498.63 L1498.39,498.63 L1500.51,498.63 L1502.64,498.63 L1504.76,498.63 L1506.89,498.63 L1509.01,498.63 L1511.14,498.63 L1513.27,498.63 L1515.39,498.63 L1517.52,498.63 L1519.64,498.63 L1521.77,498.63 L1523.89,498.63 L1526.02,498.63 L1528.14,498.63 L1530.27,498.63 L1532.39,498.63 L1534.52,498.63 L1536.64,498.63 L1538.77,498.63 L1540.90,498.63 L1543.02,498.63 L1545.15,498.63 L1547.27,498.63 L1549.40,498.63 L1551.52,498.63 L1553.65,498.63 L1555.77,498.63 L1557.90,498.63 L1560.02,498.63 L1562.15,498.63 L1564.27,498.63 L1566.40,498.63 L1568.52,498.63 L1570.65,498.63 L1572.78,498.63 L1574.90,498.63 L1577.03,498.63 L1579.15,498.63 L1581.28,498.63 L1583.40,498.63 L1585.53,498.63 L1587.65,498.63 L1589.78,498.63 L1591.90,498.63 L1594.03,498.63 L1596.15,498.63 L1598.28,498.63 L1600.41,498.63 L1602.53,498.63 L1604.66,498.63 L1606.78,498.63 L1608.91,498.63 L1611.03,498.63 L1613.16,498.63 L1615.28,498.63 L1617.41,498.63 L1619.53,498.63 L1621.66,498.63 L1623.78,498.63 L1625.91,498.63 L1628.03,498.63 L1630.16,498.63 L1632.29,498.63 L1634.41,498.63 L1636.54,498.63 L1638.66,498.63 L1640.79,498.63 L1642.91,498.63 L1645.04,498.63 L1647.16,498.63 L1649.29,498.63 L1651.41,498.63 L1653.54,498.63 L1655.66,498.63 L1657.79,498.63 L1659.92,498.63 L1662.04,498.63 L1664.17,498.63 L1666.29,498.63 L1668.42,498.63 L1670.54,498.63 L1672.67,498.63 L1674.79,498.63 L1676.92,498.63 L1679.04,498.63 L1681.17,498.63 L1683.29,498.63 L1685.42,498.63 L1687.54,498.63 L1689.67,498.63 L1691.80,498.63 L1693.92,498.63 L1696.05,498.63 L1698.17,498.63 L1700.30,498.63 L1702.42,498.63 L1704.55,498.63 L1706.67,498.63 L1708.80,498.63 L1710.92,498.63 L1713.05,498.63 L1715.17,498.63 L1717.30,498.63" stroke="#787878" stroke-dasharray="0.899 13.729"/>
</g>
<g fill="none" stroke-width="7.0">
<line x1="289.4" y1="119.5" x2="416.3" y2="119.5" stroke="#ff0000" stroke-dasharray="27.6 25.2 4.8 25.2 4.8 25.2"/>
<circle cx="416.3" cy="119.5" r="3.5" fill="#ff0000" stroke="none"/>
<line x1="289.4" y1="189.5" x2="416.3" y2="189.5" stroke="#ff8000" stroke-dasharray="31.5 42.7"/>
<line x1="289.4" y1="259.5" x2="416.3" y2="259.5" stroke="#00c800"/>
<line x1="289.4" y1="329.5" x2="416.3" y2="329.5" stroke="#be00be" stroke-dasharray="22.6 17.55 0.7 17.55"/>
<circle cx="416.3" cy="329.5" r="3.5" fill="#be00be" stroke="none"/>
<line x1="289.4" y1="399.5" x2="416.3" y2="399.5" stroke="#ff0080" stroke-dasharray="12.1 21.4"/>
<line x1="289.4" y1="469.5" x2="416.3" y2="469.5" stroke="#787878" stroke-dasharray="0.9 13.75"/>
</g>
<g class="lg">
<text x="430.0" y="138.2">Soil</text>
<text x="430.0" y="208.2">Sand</text>
<text x="430.0" y="278.2">1:2</text>
<text x="430.0" y="348.2">2:1</text>
<text x="430.0" y="418.2">1:1</text>
<text x="430.0" y="488.2">Rock</text>
</g>
</svg></body></html>
